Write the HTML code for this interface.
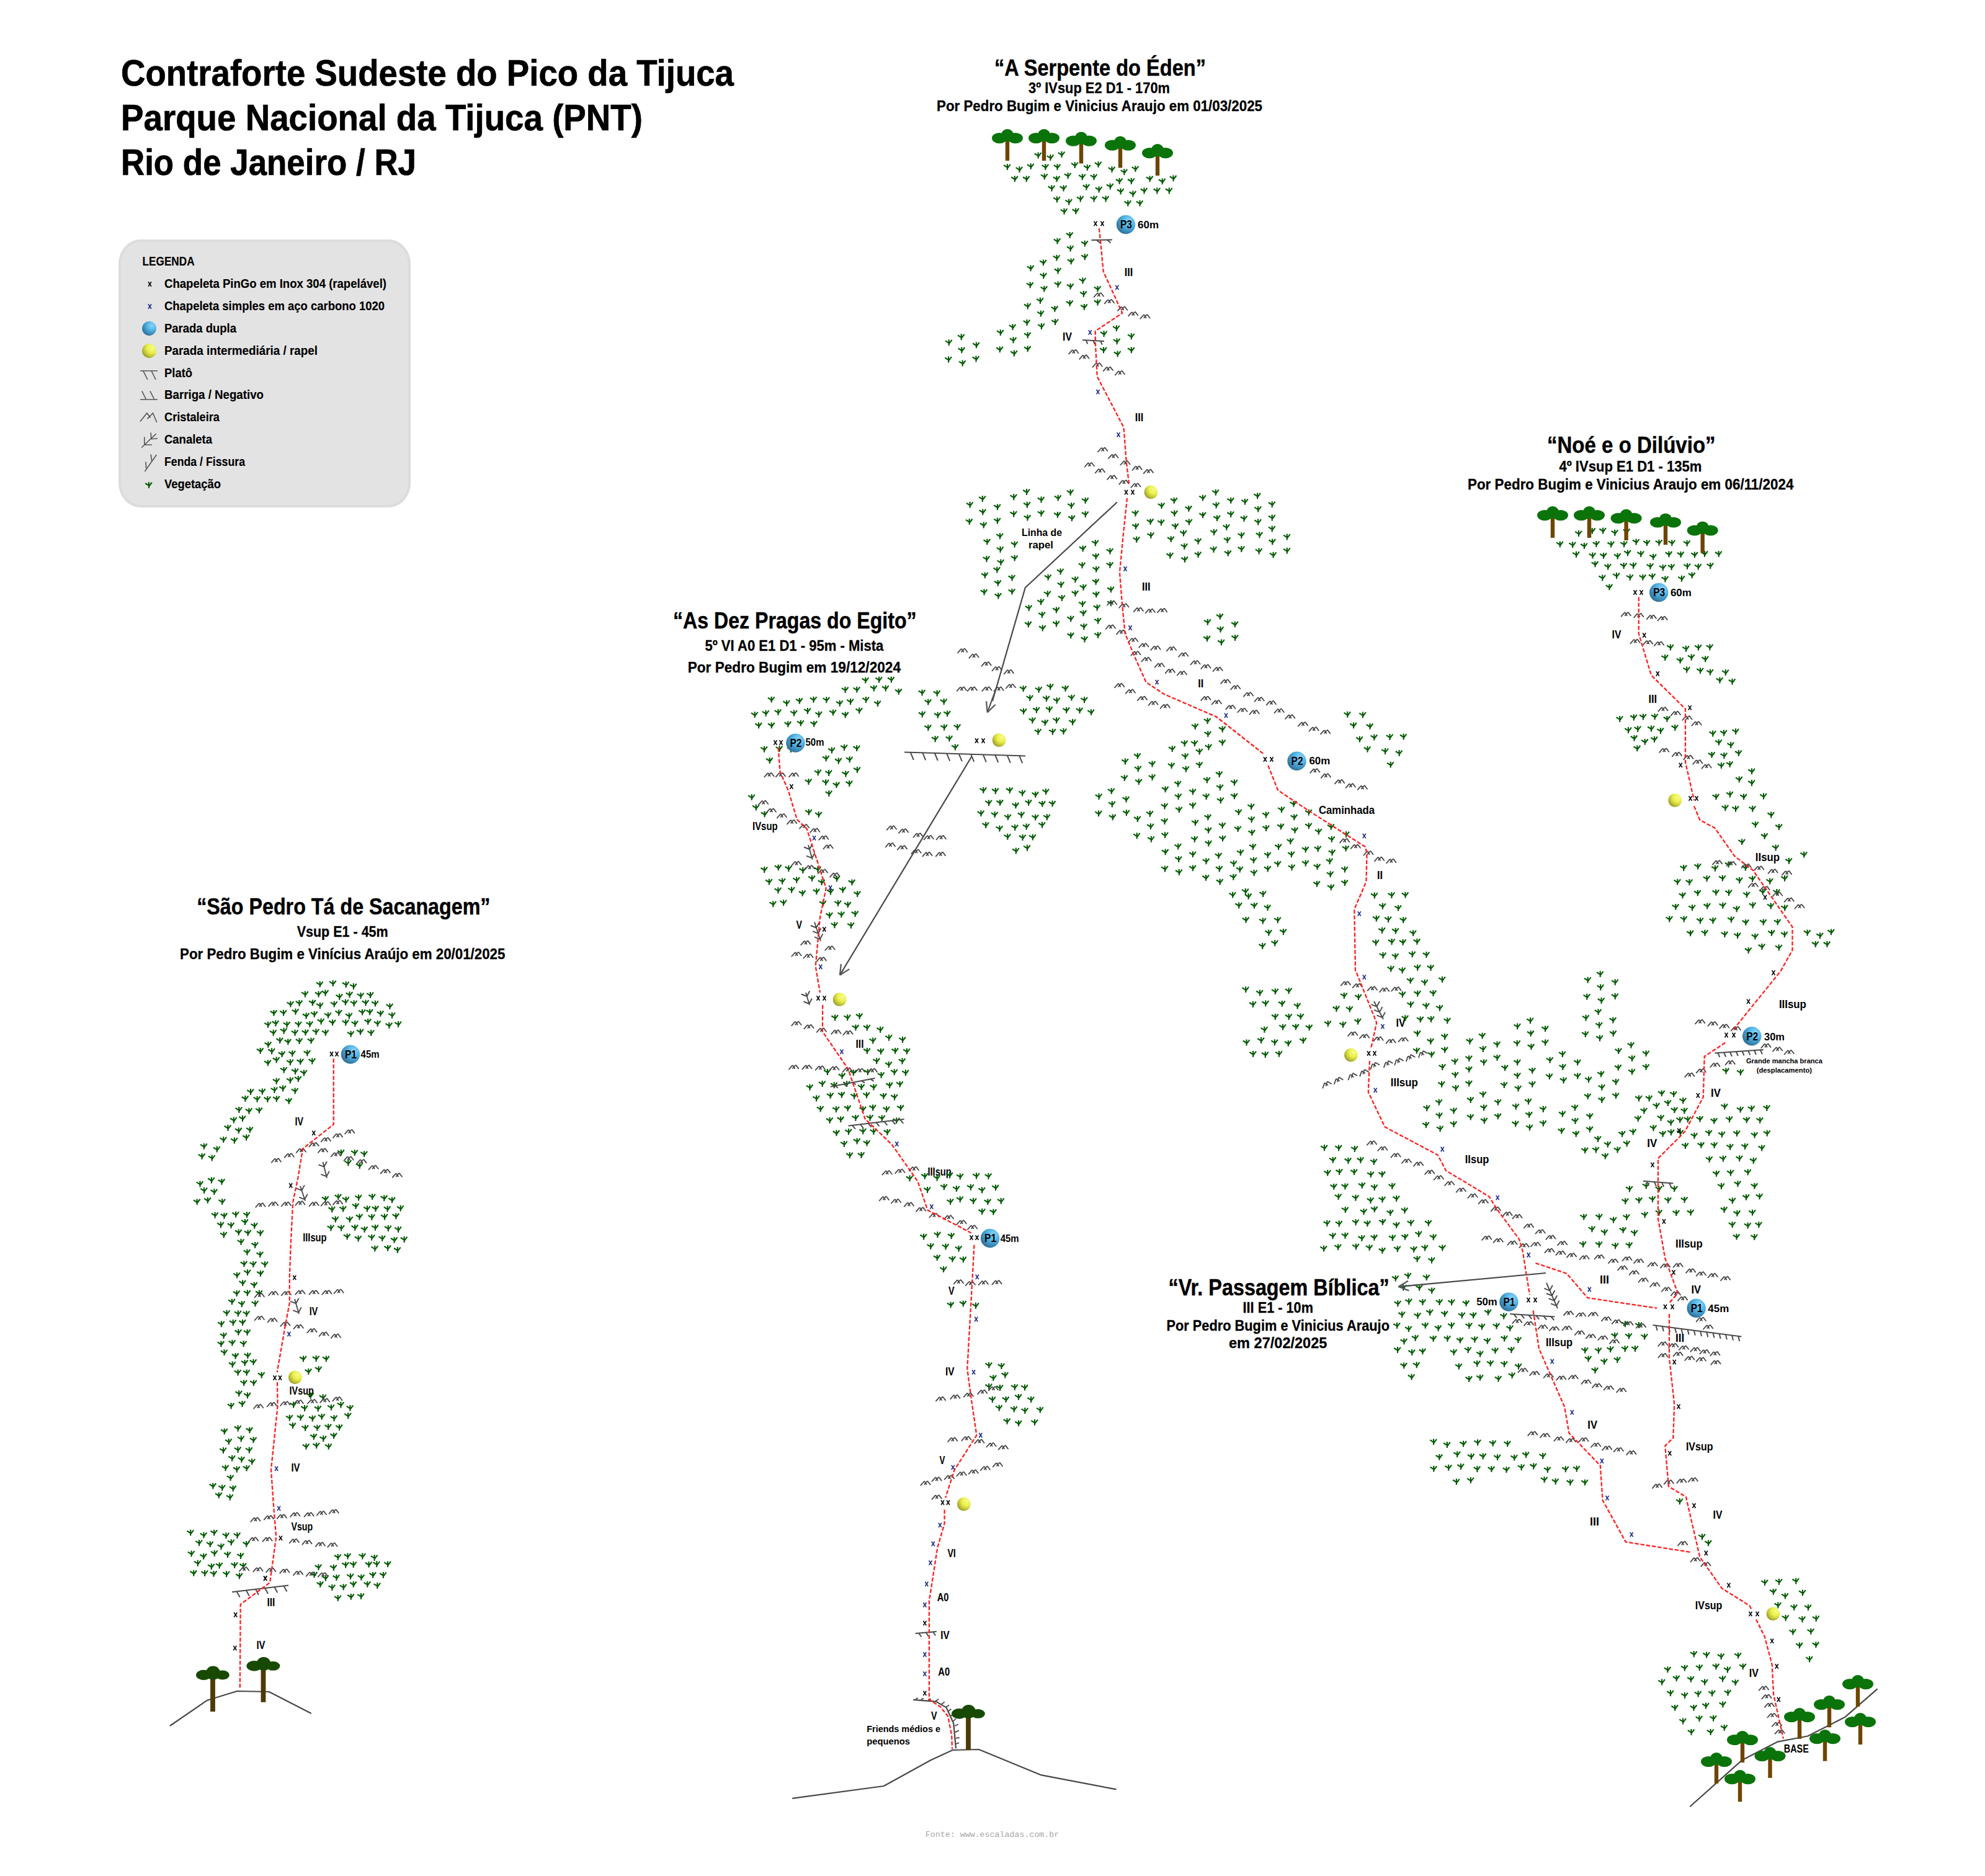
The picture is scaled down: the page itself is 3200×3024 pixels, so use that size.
<!DOCTYPE html>
<html><head><meta charset="utf-8"><title>Contraforte Sudeste do Pico da Tijuca</title>
<style>html,body{margin:0;padding:0;background:#fff;}svg{display:block;}</style></head>
<body><svg xmlns="http://www.w3.org/2000/svg" width="3200" height="3024" viewBox="0 0 3200 3024">
<defs>
<radialGradient id="gb" cx="0.68" cy="0.3" r="0.75">
<stop offset="0" stop-color="#8fd3f5"/><stop offset="0.45" stop-color="#4fb4e6"/><stop offset="1" stop-color="#2f6f98"/></radialGradient>
<radialGradient id="gy" cx="0.7" cy="0.3" r="0.8" fx="0.72" fy="0.28">
<stop offset="0" stop-color="#f8fc8c"/><stop offset="0.45" stop-color="#e9f04a"/><stop offset="0.8" stop-color="#b8bb35"/><stop offset="1" stop-color="#8f8f25"/></radialGradient>
<path id="v" d="M0,0V9.9M-5.7,2L-0.2,5.6M4.9,0.6L0.4,6.6" stroke="#005a00" stroke-width="2.1" fill="none"/>
<path id="c" d="M-7.8,3.3L-2.8,-2.4Q-2,-3.2 -1.2,-2.3L1.4,1.9M-1.7,1.8L0.6,-0.9Q2.2,-3.6 3.4,-3.2L7.5,2.1" stroke="#464646" stroke-width="1.8" fill="none" stroke-linecap="round" stroke-linejoin="round"/>
<g id="bx"><path d="M-2.5,-3.7L2.5,3.7M2.5,-3.7L-2.5,3.7" stroke="#000" stroke-width="1.55"/></g>
<g id="bb"><path d="M-2.5,-3.7L2.5,3.7M2.5,-3.7L-2.5,3.7" stroke="#1a2a8a" stroke-width="1.6"/></g>
<g id="tb"><rect x="-3.2" y="16" width="6.6" height="60" fill="#6e4500"/><ellipse cx="-13.5" cy="14" rx="11.8" ry="7.8" fill="#0a740a"/><ellipse cx="14" cy="14" rx="11" ry="7.4" fill="#0a740a"/><ellipse cx="0.5" cy="10.5" rx="10.5" ry="10.5" fill="#0a740a"/></g>
<g id="td"><rect x="-3.9" y="16" width="7.8" height="80" fill="#4d3a05"/><ellipse cx="-14.6" cy="14.4" rx="12.4" ry="8.3" fill="#174a00"/><ellipse cx="15.7" cy="14.4" rx="11.2" ry="7.4" fill="#174a00"/><ellipse cx="0.5" cy="11" rx="11.5" ry="11" fill="#174a00"/></g>
<clipPath id="ck"><rect x="0" y="0" width="3200" height="3024"/></clipPath>
</defs>
<rect x="191" y="386" width="471" height="432" rx="36" ry="40" fill="#e3e3e3"/><rect x="193" y="388" width="467" height="428" rx="34" ry="38" fill="none" stroke="#dcdcdc" stroke-width="4"/><text x="195" y="138" font-family="Liberation Sans" font-size="59.6" font-weight="bold" fill="#000" text-anchor="start" textLength="988" lengthAdjust="spacingAndGlyphs" stroke="#000" stroke-width="0.7">Contraforte Sudeste do Pico da Tijuca</text><text x="195" y="210" font-family="Liberation Sans" font-size="59.6" font-weight="bold" fill="#000" text-anchor="start" textLength="841" lengthAdjust="spacingAndGlyphs" stroke="#000" stroke-width="0.7">Parque Nacional da Tijuca (PNT)</text><text x="195" y="281.5" font-family="Liberation Sans" font-size="59.6" font-weight="bold" fill="#000" text-anchor="start" textLength="476" lengthAdjust="spacingAndGlyphs" stroke="#000" stroke-width="0.7">Rio de Janeiro / RJ</text><text x="229.6" y="428" font-family="Liberation Sans" font-size="20.2" font-weight="bold" fill="#000" text-anchor="start" textLength="84" lengthAdjust="spacingAndGlyphs" stroke="#000" stroke-width="0.15">LEGENDA</text><text x="265" y="464" font-family="Liberation Sans" font-size="21" font-weight="bold" fill="#000" text-anchor="start" textLength="358" lengthAdjust="spacingAndGlyphs" stroke="#000" stroke-width="0.15">Chapeleta PinGo em Inox 304 (rapelável)</text><text x="265" y="500" font-family="Liberation Sans" font-size="21" font-weight="bold" fill="#000" text-anchor="start" textLength="355" lengthAdjust="spacingAndGlyphs" stroke="#000" stroke-width="0.15">Chapeleta simples em aço carbono 1020</text><text x="265" y="536" font-family="Liberation Sans" font-size="21" font-weight="bold" fill="#000" text-anchor="start" textLength="116" lengthAdjust="spacingAndGlyphs" stroke="#000" stroke-width="0.15">Parada dupla</text><text x="265" y="571.5" font-family="Liberation Sans" font-size="21" font-weight="bold" fill="#000" text-anchor="start" textLength="247" lengthAdjust="spacingAndGlyphs" stroke="#000" stroke-width="0.15">Parada intermediária / rapel</text><text x="265" y="607.5" font-family="Liberation Sans" font-size="21" font-weight="bold" fill="#000" text-anchor="start" textLength="45" lengthAdjust="spacingAndGlyphs" stroke="#000" stroke-width="0.15">Platô</text><text x="265" y="643" font-family="Liberation Sans" font-size="21" font-weight="bold" fill="#000" text-anchor="start" textLength="160" lengthAdjust="spacingAndGlyphs" stroke="#000" stroke-width="0.15">Barriga / Negativo</text><text x="265" y="679" font-family="Liberation Sans" font-size="21" font-weight="bold" fill="#000" text-anchor="start" textLength="89" lengthAdjust="spacingAndGlyphs" stroke="#000" stroke-width="0.15">Cristaleira</text><text x="265" y="715" font-family="Liberation Sans" font-size="21" font-weight="bold" fill="#000" text-anchor="start" textLength="77" lengthAdjust="spacingAndGlyphs" stroke="#000" stroke-width="0.15">Canaleta</text><text x="265" y="751" font-family="Liberation Sans" font-size="21" font-weight="bold" fill="#000" text-anchor="start" textLength="130" lengthAdjust="spacingAndGlyphs" stroke="#000" stroke-width="0.15">Fenda / Fissura</text><text x="265" y="787" font-family="Liberation Sans" font-size="21" font-weight="bold" fill="#000" text-anchor="start" textLength="91" lengthAdjust="spacingAndGlyphs" stroke="#000" stroke-width="0.15">Vegetação</text><text x="1603" y="121.6" font-family="Liberation Sans" font-size="36.3" font-weight="bold" fill="#000" text-anchor="start" textLength="341" lengthAdjust="spacingAndGlyphs" stroke="#000" stroke-width="0.45">“A Serpente do Éden”</text><text x="1658" y="149.8" font-family="Liberation Sans" font-size="24.1" font-weight="bold" fill="#000" text-anchor="start" textLength="228" lengthAdjust="spacingAndGlyphs" stroke="#000" stroke-width="0.3">3º IVsup E2 D1 - 170m</text><text x="1510" y="178.6" font-family="Liberation Sans" font-size="24.1" font-weight="bold" fill="#000" text-anchor="start" textLength="525" lengthAdjust="spacingAndGlyphs" stroke="#000" stroke-width="0.3">Por Pedro Bugim e Vinicius Araujo em 01/03/2025</text><text x="1085" y="1013" font-family="Liberation Sans" font-size="36.3" font-weight="bold" fill="#000" text-anchor="start" textLength="392.6" lengthAdjust="spacingAndGlyphs" stroke="#000" stroke-width="0.45">“As Dez Pragas do Egito”</text><text x="1136.4" y="1049" font-family="Liberation Sans" font-size="24.1" font-weight="bold" fill="#000" text-anchor="start" textLength="288" lengthAdjust="spacingAndGlyphs" stroke="#000" stroke-width="0.3">5º VI A0 E1 D1 - 95m - Mista</text><text x="1108.7" y="1084.3" font-family="Liberation Sans" font-size="24.1" font-weight="bold" fill="#000" text-anchor="start" textLength="343.3" lengthAdjust="spacingAndGlyphs" stroke="#000" stroke-width="0.3">Por Pedro Bugim em 19/12/2024</text><text x="317.2" y="1474.2" font-family="Liberation Sans" font-size="36.3" font-weight="bold" fill="#000" text-anchor="start" textLength="473.3" lengthAdjust="spacingAndGlyphs" stroke="#000" stroke-width="0.45">“São Pedro Tá de Sacanagem”</text><text x="478.7" y="1509.7" font-family="Liberation Sans" font-size="24.1" font-weight="bold" fill="#000" text-anchor="start" textLength="147" lengthAdjust="spacingAndGlyphs" stroke="#000" stroke-width="0.3">Vsup E1 - 45m</text><text x="290" y="1545.5" font-family="Liberation Sans" font-size="24.1" font-weight="bold" fill="#000" text-anchor="start" textLength="524.4" lengthAdjust="spacingAndGlyphs" stroke="#000" stroke-width="0.3">Por Pedro Bugim e Vinícius Araújo em 20/01/2025</text><text x="2494" y="730.4" font-family="Liberation Sans" font-size="36.3" font-weight="bold" fill="#000" text-anchor="start" textLength="271.6" lengthAdjust="spacingAndGlyphs" stroke="#000" stroke-width="0.45">“Noé e o Dilúvio”</text><text x="2513.4" y="759.5" font-family="Liberation Sans" font-size="24.1" font-weight="bold" fill="#000" text-anchor="start" textLength="230" lengthAdjust="spacingAndGlyphs" stroke="#000" stroke-width="0.3">4º IVsup E1 D1 - 135m</text><text x="2366" y="789" font-family="Liberation Sans" font-size="24.1" font-weight="bold" fill="#000" text-anchor="start" textLength="525.4" lengthAdjust="spacingAndGlyphs" stroke="#000" stroke-width="0.3">Por Pedro Bugim e Vinicius Araujo em 06/11/2024</text><text x="1883.6" y="2087.5" font-family="Liberation Sans" font-size="36.3" font-weight="bold" fill="#000" text-anchor="start" textLength="356" lengthAdjust="spacingAndGlyphs" stroke="#000" stroke-width="0.45">“Vr. Passagem Bíblica”</text><text x="2003.5" y="2116.3" font-family="Liberation Sans" font-size="24.1" font-weight="bold" fill="#000" text-anchor="start" textLength="113.5" lengthAdjust="spacingAndGlyphs" stroke="#000" stroke-width="0.3">III E1 - 10m</text><text x="1880.4" y="2145" font-family="Liberation Sans" font-size="24.1" font-weight="bold" fill="#000" text-anchor="start" textLength="359.6" lengthAdjust="spacingAndGlyphs" stroke="#000" stroke-width="0.3">Por Pedro Bugim e Vinicius Araujo</text><text x="1981" y="2173.2" font-family="Liberation Sans" font-size="24.1" font-weight="bold" fill="#000" text-anchor="start" textLength="158.4" lengthAdjust="spacingAndGlyphs" stroke="#000" stroke-width="0.3">em 27/02/2025</text><text x="1834" y="368" font-family="Liberation Sans" font-size="17" font-weight="bold" fill="#000" text-anchor="start" textLength="34" lengthAdjust="spacingAndGlyphs">60m</text><text x="1812.8" y="445" font-family="Liberation Sans" font-size="18.8" font-weight="bold" fill="#000" text-anchor="start" textLength="13.6" lengthAdjust="spacingAndGlyphs">III</text><text x="1713" y="549.4" font-family="Liberation Sans" font-size="18.8" font-weight="bold" fill="#000" text-anchor="start" textLength="15" lengthAdjust="spacingAndGlyphs">IV</text><text x="1829.8" y="678.6" font-family="Liberation Sans" font-size="18.8" font-weight="bold" fill="#000" text-anchor="start" textLength="13.6" lengthAdjust="spacingAndGlyphs">III</text><text x="1647" y="863.7" font-family="Liberation Sans" font-size="16.7" font-weight="bold" fill="#000" text-anchor="start" textLength="65" lengthAdjust="spacingAndGlyphs">Linha de</text><text x="1658" y="884" font-family="Liberation Sans" font-size="16.7" font-weight="bold" fill="#000" text-anchor="start" textLength="40" lengthAdjust="spacingAndGlyphs">rapel</text><text x="1841" y="952" font-family="Liberation Sans" font-size="18.8" font-weight="bold" fill="#000" text-anchor="start" textLength="13.6" lengthAdjust="spacingAndGlyphs">III</text><text x="1931.3" y="1107.6" font-family="Liberation Sans" font-size="18.8" font-weight="bold" fill="#000" text-anchor="start" textLength="9" lengthAdjust="spacingAndGlyphs">II</text><text x="2110.4" y="1232.3" font-family="Liberation Sans" font-size="17" font-weight="bold" fill="#000" text-anchor="start" textLength="34" lengthAdjust="spacingAndGlyphs">60m</text><text x="2126" y="1311.9" font-family="Liberation Sans" font-size="18.7" font-weight="bold" fill="#000" text-anchor="start" textLength="90" lengthAdjust="spacingAndGlyphs">Caminhada</text><text x="2220" y="1417.1" font-family="Liberation Sans" font-size="18.8" font-weight="bold" fill="#000" text-anchor="start" textLength="9" lengthAdjust="spacingAndGlyphs">II</text><text x="2250.6" y="1654.7" font-family="Liberation Sans" font-size="18.8" font-weight="bold" fill="#000" text-anchor="start" textLength="15.2" lengthAdjust="spacingAndGlyphs">IV</text><text x="2241.8" y="1751.2" font-family="Liberation Sans" font-size="18.8" font-weight="bold" fill="#000" text-anchor="start" textLength="44" lengthAdjust="spacingAndGlyphs">IIIsup</text><text x="2361.7" y="1875.1" font-family="Liberation Sans" font-size="18.8" font-weight="bold" fill="#000" text-anchor="start" textLength="38.7" lengthAdjust="spacingAndGlyphs">IIsup</text><text x="2380.2" y="2104.2" font-family="Liberation Sans" font-size="17" font-weight="bold" fill="#000" text-anchor="start" textLength="33.6" lengthAdjust="spacingAndGlyphs">50m</text><text x="2492" y="2170.3" font-family="Liberation Sans" font-size="18.8" font-weight="bold" fill="#000" text-anchor="start" textLength="43" lengthAdjust="spacingAndGlyphs">IIIsup</text><text x="2559.3" y="2302.7" font-family="Liberation Sans" font-size="18.8" font-weight="bold" fill="#000" text-anchor="start" textLength="15.7" lengthAdjust="spacingAndGlyphs">IV</text><text x="2563" y="2458.7" font-family="Liberation Sans" font-size="18.8" font-weight="bold" fill="#000" text-anchor="start" textLength="15" lengthAdjust="spacingAndGlyphs">III</text><text x="2579" y="2069" font-family="Liberation Sans" font-size="18.8" font-weight="bold" fill="#000" text-anchor="start" textLength="15" lengthAdjust="spacingAndGlyphs">III</text><text x="1298.5" y="1202.4" font-family="Liberation Sans" font-size="17" font-weight="bold" fill="#000" text-anchor="start" textLength="30" lengthAdjust="spacingAndGlyphs">50m</text><text x="1213" y="1338" font-family="Liberation Sans" font-size="18.8" font-weight="bold" fill="#000" text-anchor="start" textLength="40.7" lengthAdjust="spacingAndGlyphs">IVsup</text><text x="1283.5" y="1497" font-family="Liberation Sans" font-size="18.8" font-weight="bold" fill="#000" text-anchor="start" textLength="9.5" lengthAdjust="spacingAndGlyphs">V</text><text x="1379.6" y="1689" font-family="Liberation Sans" font-size="18.8" font-weight="bold" fill="#000" text-anchor="start" textLength="12.8" lengthAdjust="spacingAndGlyphs">III</text><text x="1495.4" y="1894.6" font-family="Liberation Sans" font-size="18.8" font-weight="bold" fill="#000" text-anchor="start" textLength="38.4" lengthAdjust="spacingAndGlyphs">IIIsup</text><text x="1612.7" y="2001.8" font-family="Liberation Sans" font-size="17" font-weight="bold" fill="#000" text-anchor="start" textLength="30" lengthAdjust="spacingAndGlyphs">45m</text><text x="1529" y="2087.2" font-family="Liberation Sans" font-size="18.8" font-weight="bold" fill="#000" text-anchor="start" textLength="9.6" lengthAdjust="spacingAndGlyphs">V</text><text x="1524" y="2217" font-family="Liberation Sans" font-size="18.8" font-weight="bold" fill="#000" text-anchor="start" textLength="14.6" lengthAdjust="spacingAndGlyphs">IV</text><text x="1514.6" y="2360" font-family="Liberation Sans" font-size="18.8" font-weight="bold" fill="#000" text-anchor="start" textLength="9" lengthAdjust="spacingAndGlyphs">V</text><text x="1527.4" y="2510.2" font-family="Liberation Sans" font-size="18.8" font-weight="bold" fill="#000" text-anchor="start" textLength="13.4" lengthAdjust="spacingAndGlyphs">VI</text><text x="1510.7" y="2581.2" font-family="Liberation Sans" font-size="18.8" font-weight="bold" fill="#000" text-anchor="start" textLength="18.9" lengthAdjust="spacingAndGlyphs">A0</text><text x="1516.2" y="2642.3" font-family="Liberation Sans" font-size="18.8" font-weight="bold" fill="#000" text-anchor="start" textLength="14.4" lengthAdjust="spacingAndGlyphs">IV</text><text x="1512.3" y="2701.1" font-family="Liberation Sans" font-size="18.8" font-weight="bold" fill="#000" text-anchor="start" textLength="18.9" lengthAdjust="spacingAndGlyphs">A0</text><text x="1501" y="2771.6" font-family="Liberation Sans" font-size="18.8" font-weight="bold" fill="#000" text-anchor="start" textLength="9.6" lengthAdjust="spacingAndGlyphs">V</text><text x="1397.2" y="2791.6" font-family="Liberation Sans" font-size="15.5" font-weight="bold" fill="#000" text-anchor="start" textLength="118.8" lengthAdjust="spacingAndGlyphs">Friends médios e</text><text x="1397.2" y="2811.9" font-family="Liberation Sans" font-size="15.5" font-weight="bold" fill="#000" text-anchor="start" textLength="69.8" lengthAdjust="spacingAndGlyphs">pequenos</text><text x="581.6" y="1704.5" font-family="Liberation Sans" font-size="17" font-weight="bold" fill="#000" text-anchor="start" textLength="30" lengthAdjust="spacingAndGlyphs">45m</text><text x="475.5" y="1814" font-family="Liberation Sans" font-size="18.8" font-weight="bold" fill="#000" text-anchor="start" textLength="13.5" lengthAdjust="spacingAndGlyphs">IV</text><text x="488.2" y="2001.2" font-family="Liberation Sans" font-size="18.8" font-weight="bold" fill="#000" text-anchor="start" textLength="38.4" lengthAdjust="spacingAndGlyphs">IIIsup</text><text x="498.8" y="2120" font-family="Liberation Sans" font-size="18.8" font-weight="bold" fill="#000" text-anchor="start" textLength="13.4" lengthAdjust="spacingAndGlyphs">IV</text><text x="466.5" y="2248.4" font-family="Liberation Sans" font-size="18.8" font-weight="bold" fill="#000" text-anchor="start" textLength="39.3" lengthAdjust="spacingAndGlyphs">IVsup</text><text x="469.4" y="2371.5" font-family="Liberation Sans" font-size="18.8" font-weight="bold" fill="#000" text-anchor="start" textLength="14.1" lengthAdjust="spacingAndGlyphs">IV</text><text x="469.4" y="2467.4" font-family="Liberation Sans" font-size="18.8" font-weight="bold" fill="#000" text-anchor="start" textLength="34.8" lengthAdjust="spacingAndGlyphs">Vsup</text><text x="430.5" y="2589.2" font-family="Liberation Sans" font-size="18.8" font-weight="bold" fill="#000" text-anchor="start" textLength="12.9" lengthAdjust="spacingAndGlyphs">III</text><text x="413.4" y="2657.5" font-family="Liberation Sans" font-size="18.8" font-weight="bold" fill="#000" text-anchor="start" textLength="14.1" lengthAdjust="spacingAndGlyphs">IV</text><text x="2692.9" y="960.6" font-family="Liberation Sans" font-size="17" font-weight="bold" fill="#000" text-anchor="start" textLength="34" lengthAdjust="spacingAndGlyphs">60m</text><text x="2598.5" y="1028.8" font-family="Liberation Sans" font-size="18.8" font-weight="bold" fill="#000" text-anchor="start" textLength="15" lengthAdjust="spacingAndGlyphs">IV</text><text x="2657.4" y="1133.3" font-family="Liberation Sans" font-size="18.8" font-weight="bold" fill="#000" text-anchor="start" textLength="13.8" lengthAdjust="spacingAndGlyphs">III</text><text x="2829.8" y="1387.8" font-family="Liberation Sans" font-size="18.8" font-weight="bold" fill="#000" text-anchor="start" textLength="39.2" lengthAdjust="spacingAndGlyphs">IIsup</text><text x="2867.9" y="1624.7" font-family="Liberation Sans" font-size="18.8" font-weight="bold" fill="#000" text-anchor="start" textLength="44" lengthAdjust="spacingAndGlyphs">IIIsup</text><text x="2844" y="1677" font-family="Liberation Sans" font-size="17" font-weight="bold" fill="#000" text-anchor="start" textLength="33" lengthAdjust="spacingAndGlyphs">30m</text><text x="2814.9" y="1714.3" font-family="Liberation Sans" font-size="10.5" font-weight="bold" fill="#000" text-anchor="start" textLength="123" lengthAdjust="spacingAndGlyphs">Grande mancha branca</text><text x="2831.7" y="1728.5" font-family="Liberation Sans" font-size="10.5" font-weight="bold" fill="#000" text-anchor="start" textLength="89.3" lengthAdjust="spacingAndGlyphs">(desplacamento)</text><text x="2758" y="1768.4" font-family="Liberation Sans" font-size="18.8" font-weight="bold" fill="#000" text-anchor="start" textLength="15.8" lengthAdjust="spacingAndGlyphs">IV</text><text x="2655.2" y="1848.6" font-family="Liberation Sans" font-size="18.8" font-weight="bold" fill="#000" text-anchor="start" textLength="16" lengthAdjust="spacingAndGlyphs">IV</text><text x="2701" y="2010.9" font-family="Liberation Sans" font-size="18.8" font-weight="bold" fill="#000" text-anchor="start" textLength="43.7" lengthAdjust="spacingAndGlyphs">IIIsup</text><text x="2753.3" y="2115" font-family="Liberation Sans" font-size="17" font-weight="bold" fill="#000" text-anchor="start" textLength="34" lengthAdjust="spacingAndGlyphs">45m</text><text x="2726.5" y="2084.5" font-family="Liberation Sans" font-size="18.8" font-weight="bold" fill="#000" text-anchor="start" textLength="15.6" lengthAdjust="spacingAndGlyphs">IV</text><text x="2701" y="2162.8" font-family="Liberation Sans" font-size="18.8" font-weight="bold" fill="#000" text-anchor="start" textLength="14.3" lengthAdjust="spacingAndGlyphs">III</text><text x="2717.9" y="2338.2" font-family="Liberation Sans" font-size="18.8" font-weight="bold" fill="#000" text-anchor="start" textLength="43.6" lengthAdjust="spacingAndGlyphs">IVsup</text><text x="2761.5" y="2448.2" font-family="Liberation Sans" font-size="18.8" font-weight="bold" fill="#000" text-anchor="start" textLength="14.9" lengthAdjust="spacingAndGlyphs">IV</text><text x="2732.8" y="2593.8" font-family="Liberation Sans" font-size="18.8" font-weight="bold" fill="#000" text-anchor="start" textLength="43.6" lengthAdjust="spacingAndGlyphs">IVsup</text><text x="2819.8" y="2702.7" font-family="Liberation Sans" font-size="18.8" font-weight="bold" fill="#000" text-anchor="start" textLength="15.1" lengthAdjust="spacingAndGlyphs">IV</text><text x="2875.8" y="2824.5" font-family="Liberation Sans" font-size="18.8" font-weight="bold" fill="#000" text-anchor="start" textLength="40" lengthAdjust="spacingAndGlyphs">BASE</text><text x="1491.8" y="2960.6" font-family="Liberation Mono" font-size="13.3" font-weight="normal" fill="#a6a6a6" text-anchor="start" textLength="215.5" lengthAdjust="spacingAndGlyphs">Fonte: www.escaladas.com.br</text><use href="#v" x="1395.3" y="1091.7"/><use href="#v" x="1417.1" y="1090.7"/><use href="#v" x="1436.8" y="1090.5"/><use href="#v" x="1362.6" y="1107.1"/><use href="#v" x="1381.3" y="1106.7"/><use href="#v" x="1408.7" y="1104.5"/><use href="#v" x="1427.7" y="1104.5"/><use href="#v" x="1448.7" y="1109.9"/><use href="#v" x="1243.6" y="1122.7"/><use href="#v" x="1268.2" y="1128.5"/><use href="#v" x="1288.8" y="1124.9"/><use href="#v" x="1311.5" y="1122.8"/><use href="#v" x="1332.3" y="1123.3"/><use href="#v" x="1353.7" y="1128.8"/><use href="#v" x="1371" y="1126"/><use href="#v" x="1396" y="1123.1"/><use href="#v" x="1414.8" y="1129.1"/><use href="#v" x="1216.7" y="1147.2"/><use href="#v" x="1234.6" y="1144.8"/><use href="#v" x="1254.4" y="1143.1"/><use href="#v" x="1280" y="1144.6"/><use href="#v" x="1301.9" y="1141.1"/><use href="#v" x="1320.1" y="1146.6"/><use href="#v" x="1342.9" y="1143.7"/><use href="#v" x="1362.8" y="1147.4"/><use href="#v" x="1385.2" y="1140.6"/><use href="#v" x="1223.1" y="1164.4"/><use href="#v" x="1243.7" y="1164.4"/><use href="#v" x="1270.3" y="1162.4"/><use href="#v" x="1290.8" y="1160.7"/><use href="#v" x="1312.2" y="1161.9"/><use href="#v" x="1340.9" y="1204.6"/><use href="#v" x="1361" y="1200"/><use href="#v" x="1381.2" y="1201.2"/><use href="#v" x="1331.6" y="1217.6"/><use href="#v" x="1351.8" y="1221.5"/><use href="#v" x="1369.6" y="1219.3"/><use href="#v" x="1318.8" y="1240.3"/><use href="#v" x="1336.1" y="1241.1"/><use href="#v" x="1363.3" y="1242.5"/><use href="#v" x="1381.9" y="1236"/><use href="#v" x="1303.5" y="1255.1"/><use href="#v" x="1331.2" y="1256.2"/><use href="#v" x="1348.4" y="1260.4"/><use href="#v" x="1369.2" y="1258"/><use href="#v" x="1336.3" y="1274.1"/><use href="#v" x="1232" y="1202.8"/><use href="#v" x="1256.5" y="1202.1"/><use href="#v" x="1274.8" y="1203"/><use href="#v" x="1240.7" y="1220.9"/><use href="#v" x="1232.2" y="1397"/><use href="#v" x="1254.7" y="1393.4"/><use href="#v" x="1271.3" y="1395"/><use href="#v" x="1294.3" y="1398"/><use href="#v" x="1318.4" y="1396.6"/><use href="#v" x="1239.9" y="1416.5"/><use href="#v" x="1261.1" y="1415.6"/><use href="#v" x="1284.2" y="1413.6"/><use href="#v" x="1308.9" y="1410.9"/><use href="#v" x="1324.6" y="1417.2"/><use href="#v" x="1348.9" y="1411.4"/><use href="#v" x="1373.4" y="1417.4"/><use href="#v" x="1254.4" y="1430.3"/><use href="#v" x="1276.1" y="1429.6"/><use href="#v" x="1293.6" y="1434.9"/><use href="#v" x="1316.4" y="1432.1"/><use href="#v" x="1338.9" y="1432.5"/><use href="#v" x="1358.6" y="1429.4"/><use href="#v" x="1382.2" y="1436"/><use href="#v" x="1246.3" y="1452.3"/><use href="#v" x="1263.1" y="1450.2"/><use href="#v" x="1326.7" y="1451.2"/><use href="#v" x="1351" y="1451.1"/><use href="#v" x="1366.7" y="1453.4"/><use href="#v" x="1337.2" y="1470.5"/><use href="#v" x="1356.3" y="1469.2"/><use href="#v" x="1378.6" y="1468"/><use href="#v" x="1345.4" y="1486.3"/><use href="#v" x="1371.9" y="1486.8"/><use href="#v" x="1486.5" y="1111.5"/><use href="#v" x="1510.6" y="1112.6"/><use href="#v" x="1496.3" y="1126.7"/><use href="#v" x="1521.6" y="1126"/><use href="#v" x="1486.7" y="1146.5"/><use href="#v" x="1511.7" y="1147.8"/><use href="#v" x="1527.1" y="1145.4"/><use href="#v" x="1496.3" y="1168"/><use href="#v" x="1522.1" y="1167.6"/><use href="#v" x="1543.4" y="1167.1"/><use href="#v" x="1507.6" y="1186.3"/><use href="#v" x="1530.4" y="1185.6"/><use href="#v" x="1539.8" y="1199.6"/><use href="#v" x="1649.6" y="1105.2"/><use href="#v" x="1674.6" y="1106.8"/><use href="#v" x="1693.1" y="1102.1"/><use href="#v" x="1717.5" y="1104.9"/><use href="#v" x="1660.3" y="1120.2"/><use href="#v" x="1686.9" y="1121.2"/><use href="#v" x="1703.6" y="1124.3"/><use href="#v" x="1727.4" y="1119.7"/><use href="#v" x="1748" y="1123.3"/><use href="#v" x="1650" y="1141.7"/><use href="#v" x="1670.9" y="1139.5"/><use href="#v" x="1691.8" y="1138.5"/><use href="#v" x="1719.2" y="1139.9"/><use href="#v" x="1740.5" y="1140.2"/><use href="#v" x="1759" y="1143.2"/><use href="#v" x="1664.3" y="1156.3"/><use href="#v" x="1684.7" y="1159.9"/><use href="#v" x="1703.1" y="1156.2"/><use href="#v" x="1729.1" y="1159.1"/><use href="#v" x="1673.5" y="1174.6"/><use href="#v" x="1696.9" y="1174.6"/><use href="#v" x="1714.4" y="1174.1"/><use href="#v" x="1585.2" y="1268.9"/><use href="#v" x="1604.8" y="1270"/><use href="#v" x="1627.7" y="1269"/><use href="#v" x="1648.1" y="1273.6"/><use href="#v" x="1669.2" y="1275.9"/><use href="#v" x="1686" y="1271.2"/><use href="#v" x="1594" y="1289.2"/><use href="#v" x="1612.1" y="1288.9"/><use href="#v" x="1637.4" y="1293.4"/><use href="#v" x="1658.2" y="1288.8"/><use href="#v" x="1680.2" y="1290.9"/><use href="#v" x="1696.6" y="1290.5"/><use href="#v" x="1581.4" y="1306.2"/><use href="#v" x="1603.6" y="1308.2"/><use href="#v" x="1624.8" y="1312.2"/><use href="#v" x="1646.5" y="1308.5"/><use href="#v" x="1669.2" y="1312.7"/><use href="#v" x="1687.8" y="1312.3"/><use href="#v" x="1589.2" y="1325.1"/><use href="#v" x="1611.4" y="1330.7"/><use href="#v" x="1636.2" y="1329.1"/><use href="#v" x="1654.6" y="1327.6"/><use href="#v" x="1680" y="1324.8"/><use href="#v" x="1624.3" y="1343.8"/><use href="#v" x="1648.6" y="1345"/><use href="#v" x="1664.8" y="1344.7"/><use href="#v" x="1637.8" y="1366.5"/><use href="#v" x="1655.9" y="1361.8"/><use href="#v" x="1346.1" y="1635.5"/><use href="#v" x="1366.2" y="1635.3"/><use href="#v" x="1385.6" y="1633"/><use href="#v" x="1379.4" y="1651.4"/><use href="#v" x="1397.7" y="1651.5"/><use href="#v" x="1419.1" y="1654.8"/><use href="#v" x="1407.2" y="1672.6"/><use href="#v" x="1433" y="1667.8"/><use href="#v" x="1455" y="1671.1"/><use href="#v" x="1397.8" y="1689"/><use href="#v" x="1419.9" y="1689.9"/><use href="#v" x="1443.1" y="1688.9"/><use href="#v" x="1461.9" y="1689.7"/><use href="#v" x="1413.2" y="1705.3"/><use href="#v" x="1432.7" y="1711.1"/><use href="#v" x="1454.5" y="1705.6"/><use href="#v" x="1333.9" y="1723"/><use href="#v" x="1357.5" y="1729.4"/><use href="#v" x="1375.7" y="1724"/><use href="#v" x="1398.9" y="1723.2"/><use href="#v" x="1420.6" y="1728.1"/><use href="#v" x="1441.7" y="1723.2"/><use href="#v" x="1459.9" y="1724.3"/><use href="#v" x="1305.5" y="1747.8"/><use href="#v" x="1325.6" y="1742.1"/><use href="#v" x="1344.7" y="1744.3"/><use href="#v" x="1365.1" y="1742.2"/><use href="#v" x="1388.6" y="1747.2"/><use href="#v" x="1408.4" y="1747.5"/><use href="#v" x="1434.1" y="1744.4"/><use href="#v" x="1450.7" y="1742.7"/><use href="#v" x="1316.1" y="1765.6"/><use href="#v" x="1338.6" y="1761.2"/><use href="#v" x="1356.8" y="1759.9"/><use href="#v" x="1377.1" y="1761.8"/><use href="#v" x="1397" y="1760.3"/><use href="#v" x="1424.3" y="1761.9"/><use href="#v" x="1442" y="1763.5"/><use href="#v" x="1322.6" y="1782.6"/><use href="#v" x="1347.9" y="1783.3"/><use href="#v" x="1366.6" y="1781.4"/><use href="#v" x="1391.2" y="1783.3"/><use href="#v" x="1407.1" y="1780.5"/><use href="#v" x="1429.1" y="1783.2"/><use href="#v" x="1451.9" y="1780.9"/><use href="#v" x="1337.6" y="1801"/><use href="#v" x="1355.3" y="1799.4"/><use href="#v" x="1379.3" y="1797"/><use href="#v" x="1402.5" y="1796.8"/><use href="#v" x="1421.7" y="1797.6"/><use href="#v" x="1445.2" y="1801.4"/><use href="#v" x="1348.4" y="1821.4"/><use href="#v" x="1368" y="1819.3"/><use href="#v" x="1391.2" y="1818.6"/><use href="#v" x="1408.3" y="1819.1"/><use href="#v" x="1430.4" y="1820"/><use href="#v" x="1360.8" y="1839.1"/><use href="#v" x="1381.6" y="1834.5"/><use href="#v" x="1397.5" y="1837.7"/><use href="#v" x="1369.8" y="1857.3"/><use href="#v" x="1388.5" y="1857.1"/><use href="#v" x="1466.5" y="1894.5"/><use href="#v" x="1490.8" y="1890.9"/><use href="#v" x="1510.6" y="1893.8"/><use href="#v" x="1531" y="1889.6"/><use href="#v" x="1547.8" y="1891.6"/><use href="#v" x="1574" y="1890.6"/><use href="#v" x="1593.4" y="1891.1"/><use href="#v" x="1495.1" y="1913"/><use href="#v" x="1521.9" y="1908.3"/><use href="#v" x="1541.9" y="1911.2"/><use href="#v" x="1564.8" y="1908.8"/><use href="#v" x="1583.1" y="1913.5"/><use href="#v" x="1605" y="1909.4"/><use href="#v" x="1532.1" y="1932.1"/><use href="#v" x="1547.7" y="1928.3"/><use href="#v" x="1569.1" y="1931"/><use href="#v" x="1592.4" y="1932.4"/><use href="#v" x="1613.7" y="1931.1"/><use href="#v" x="1583.2" y="1948"/><use href="#v" x="1601.4" y="1948.7"/><use href="#v" x="1489.1" y="1988.5"/><use href="#v" x="1511.4" y="1985.3"/><use href="#v" x="1533.6" y="1987.3"/><use href="#v" x="1500.3" y="2004.1"/><use href="#v" x="1524.5" y="2004.6"/><use href="#v" x="1545.5" y="2007.8"/><use href="#v" x="1510.7" y="2022.4"/><use href="#v" x="1535.4" y="2024.7"/><use href="#v" x="1552.8" y="2025.4"/><use href="#v" x="1521.1" y="2041.2"/><use href="#v" x="1532.6" y="2098.4"/><use href="#v" x="1552.7" y="2096.4"/><use href="#v" x="1573" y="2099.8"/><use href="#v" x="1594.2" y="2195.7"/><use href="#v" x="1614.4" y="2197.2"/><use href="#v" x="1601.3" y="2216.2"/><use href="#v" x="1620.3" y="2211.5"/><use href="#v" x="1594.2" y="2230"/><use href="#v" x="1612" y="2232.1"/><use href="#v" x="1635.8" y="2231.1"/><use href="#v" x="1652" y="2231.7"/><use href="#v" x="1599.8" y="2251"/><use href="#v" x="1621.6" y="2250.9"/><use href="#v" x="1641.9" y="2246.9"/><use href="#v" x="1662.1" y="2251.1"/><use href="#v" x="1610.7" y="2264.6"/><use href="#v" x="1634.7" y="2266.6"/><use href="#v" x="1652.3" y="2269.1"/><use href="#v" x="1676.8" y="2267.7"/><use href="#v" x="1623.5" y="2286"/><use href="#v" x="1642" y="2289.4"/><use href="#v" x="1668" y="2287.8"/><use href="#v" x="515.7" y="1581.7"/><use href="#v" x="536.7" y="1580.2"/><use href="#v" x="557.7" y="1582"/><use href="#v" x="569.9" y="1585.1"/><use href="#v" x="491.9" y="1597.5"/><use href="#v" x="513.5" y="1597.6"/><use href="#v" x="524.5" y="1595.5"/><use href="#v" x="547.2" y="1601.8"/><use href="#v" x="563.4" y="1598.3"/><use href="#v" x="581.5" y="1600.1"/><use href="#v" x="597" y="1599.1"/><use href="#v" x="468.3" y="1613.7"/><use href="#v" x="482.5" y="1612"/><use href="#v" x="503.8" y="1611.4"/><use href="#v" x="515.9" y="1616"/><use href="#v" x="538.7" y="1613.7"/><use href="#v" x="556.9" y="1610.7"/><use href="#v" x="570.6" y="1612.3"/><use href="#v" x="589.5" y="1611.5"/><use href="#v" x="604.9" y="1612.7"/><use href="#v" x="628.4" y="1617.2"/><use href="#v" x="441.4" y="1627.9"/><use href="#v" x="457" y="1627.7"/><use href="#v" x="476.4" y="1625.8"/><use href="#v" x="493.6" y="1632.5"/><use href="#v" x="506.7" y="1629.9"/><use href="#v" x="528.9" y="1631.7"/><use href="#v" x="546.2" y="1627.6"/><use href="#v" x="562.8" y="1632.5"/><use href="#v" x="584" y="1626.7"/><use href="#v" x="596.1" y="1626.4"/><use href="#v" x="613.4" y="1628.9"/><use href="#v" x="632" y="1631.8"/><use href="#v" x="432" y="1646.8"/><use href="#v" x="444.4" y="1644.5"/><use href="#v" x="462.5" y="1646.6"/><use href="#v" x="481.1" y="1646.2"/><use href="#v" x="499.4" y="1646.1"/><use href="#v" x="517.6" y="1641.5"/><use href="#v" x="536" y="1643.4"/><use href="#v" x="557.3" y="1643.3"/><use href="#v" x="572.3" y="1645.1"/><use href="#v" x="593.2" y="1641.9"/><use href="#v" x="608.6" y="1644.8"/><use href="#v" x="627.3" y="1648"/><use href="#v" x="642.1" y="1646.1"/><use href="#v" x="440.7" y="1659.8"/><use href="#v" x="457.6" y="1656.8"/><use href="#v" x="475.5" y="1659.8"/><use href="#v" x="492.4" y="1659.4"/><use href="#v" x="509.4" y="1658.3"/><use href="#v" x="524.7" y="1659.7"/><use href="#v" x="565.6" y="1661.8"/><use href="#v" x="580.9" y="1658.4"/><use href="#v" x="598.2" y="1660.1"/><use href="#v" x="432.3" y="1678.9"/><use href="#v" x="451.2" y="1672.2"/><use href="#v" x="464.3" y="1674.4"/><use href="#v" x="482.6" y="1673.2"/><use href="#v" x="501.5" y="1672.7"/><use href="#v" x="419.6" y="1688.9"/><use href="#v" x="438.1" y="1689.5"/><use href="#v" x="454.5" y="1694.4"/><use href="#v" x="471.2" y="1693.3"/><use href="#v" x="495.3" y="1692.6"/><use href="#v" x="431.8" y="1708.4"/><use href="#v" x="445.6" y="1703.5"/><use href="#v" x="467.8" y="1707.3"/><use href="#v" x="484.2" y="1706.4"/><use href="#v" x="503.3" y="1705.5"/><use href="#v" x="457.6" y="1719.8"/><use href="#v" x="476" y="1722"/><use href="#v" x="489.9" y="1724.5"/><use href="#v" x="445.6" y="1737.8"/><use href="#v" x="467.8" y="1736.6"/><use href="#v" x="480.8" y="1734.2"/><use href="#v" x="404" y="1755.1"/><use href="#v" x="422.8" y="1754.6"/><use href="#v" x="442.4" y="1752.1"/><use href="#v" x="456" y="1749.5"/><use href="#v" x="475.6" y="1753.6"/><use href="#v" x="395.4" y="1766"/><use href="#v" x="414.6" y="1766.8"/><use href="#v" x="431.3" y="1767"/><use href="#v" x="445.8" y="1766.4"/><use href="#v" x="465.6" y="1769.9"/><use href="#v" x="385.3" y="1784"/><use href="#v" x="401.4" y="1785.9"/><use href="#v" x="417.8" y="1784.9"/><use href="#v" x="376.8" y="1800.5"/><use href="#v" x="391" y="1798"/><use href="#v" x="367.4" y="1813"/><use href="#v" x="384.7" y="1817.4"/><use href="#v" x="402.8" y="1816.2"/><use href="#v" x="360.2" y="1832.2"/><use href="#v" x="377.9" y="1833.6"/><use href="#v" x="397.1" y="1828.5"/><use href="#v" x="328.8" y="1842.9"/><use href="#v" x="349.7" y="1847.6"/><use href="#v" x="325.5" y="1858.9"/><use href="#v" x="341.6" y="1861.6"/><use href="#v" x="322.5" y="1903.6"/><use href="#v" x="340.9" y="1897.5"/><use href="#v" x="357.4" y="1899.9"/><use href="#v" x="329.1" y="1914"/><use href="#v" x="345.3" y="1916.2"/><use href="#v" x="317.6" y="1932.4"/><use href="#v" x="334.8" y="1929.9"/><use href="#v" x="358.2" y="1932.2"/><use href="#v" x="346.6" y="1953.8"/><use href="#v" x="361.4" y="1954.9"/><use href="#v" x="380.1" y="1952.7"/><use href="#v" x="397.9" y="1953.3"/><use href="#v" x="355.9" y="1969.5"/><use href="#v" x="372.5" y="1970.2"/><use href="#v" x="394.9" y="1964.9"/><use href="#v" x="410.2" y="1970.8"/><use href="#v" x="360.7" y="1985.6"/><use href="#v" x="384.6" y="1981.4"/><use href="#v" x="399.6" y="1982.4"/><use href="#v" x="419.7" y="1982.8"/><use href="#v" x="388.5" y="1997.1"/><use href="#v" x="411.2" y="2002"/><use href="#v" x="398.4" y="2013.6"/><use href="#v" x="419.2" y="2017.3"/><use href="#v" x="393.4" y="2032.4"/><use href="#v" x="408.3" y="2033.1"/><use href="#v" x="427" y="2033.2"/><use href="#v" x="382" y="2050.7"/><use href="#v" x="399" y="2046.2"/><use href="#v" x="419.9" y="2047.9"/><use href="#v" x="391.2" y="2063.2"/><use href="#v" x="409.7" y="2066.4"/><use href="#v" x="381.6" y="2079.9"/><use href="#v" x="398.8" y="2079.3"/><use href="#v" x="417.9" y="2079.5"/><use href="#v" x="373.9" y="2093.4"/><use href="#v" x="389.8" y="2097.1"/><use href="#v" x="411.4" y="2096.3"/><use href="#v" x="365.5" y="2111.7"/><use href="#v" x="383.8" y="2112.3"/><use href="#v" x="397.4" y="2112.7"/><use href="#v" x="356.8" y="2129.3"/><use href="#v" x="375.7" y="2127.1"/><use href="#v" x="391.1" y="2126.9"/><use href="#v" x="360.5" y="2148.1"/><use href="#v" x="384.3" y="2142.5"/><use href="#v" x="398.6" y="2142.8"/><use href="#v" x="356.4" y="2161.4"/><use href="#v" x="374.4" y="2159.7"/><use href="#v" x="392.6" y="2161.1"/><use href="#v" x="361.5" y="2175.2"/><use href="#v" x="379.6" y="2180.9"/><use href="#v" x="399.3" y="2180.2"/><use href="#v" x="374.7" y="2194.5"/><use href="#v" x="394.6" y="2191.9"/><use href="#v" x="408.5" y="2190.7"/><use href="#v" x="383.5" y="2207.5"/><use href="#v" x="397.6" y="2207.6"/><use href="#v" x="421.6" y="2211.5"/><use href="#v" x="393.2" y="2224.2"/><use href="#v" x="408.9" y="2224.2"/><use href="#v" x="385.2" y="2241.2"/><use href="#v" x="398.9" y="2244.4"/><use href="#v" x="372.5" y="2261.3"/><use href="#v" x="390.5" y="2258"/><use href="#v" x="361.7" y="2302.4"/><use href="#v" x="383.6" y="2297.5"/><use href="#v" x="402.3" y="2300.4"/><use href="#v" x="368.7" y="2318.8"/><use href="#v" x="388.7" y="2314.3"/><use href="#v" x="408.5" y="2316.2"/><use href="#v" x="359.9" y="2333.1"/><use href="#v" x="383.5" y="2331.8"/><use href="#v" x="401.8" y="2332.6"/><use href="#v" x="374.1" y="2345.7"/><use href="#v" x="389.4" y="2347.7"/><use href="#v" x="406.2" y="2351.2"/><use href="#v" x="363.5" y="2361.3"/><use href="#v" x="381.7" y="2363.5"/><use href="#v" x="397.5" y="2361.7"/><use href="#v" x="371.6" y="2377.2"/><use href="#v" x="343.3" y="2390.4"/><use href="#v" x="358.1" y="2393.2"/><use href="#v" x="375.6" y="2394.4"/><use href="#v" x="352.7" y="2405.4"/><use href="#v" x="370.7" y="2408.6"/><use href="#v" x="524.6" y="1927.9"/><use href="#v" x="545.3" y="1924.3"/><use href="#v" x="557.7" y="1928.7"/><use href="#v" x="578.1" y="1925.6"/><use href="#v" x="600.1" y="1924.2"/><use href="#v" x="619.3" y="1926.4"/><use href="#v" x="632" y="1929.4"/><use href="#v" x="535.2" y="1944.5"/><use href="#v" x="553.1" y="1943.7"/><use href="#v" x="573.5" y="1939.2"/><use href="#v" x="591.9" y="1943.6"/><use href="#v" x="605.4" y="1943.4"/><use href="#v" x="624.6" y="1943.7"/><use href="#v" x="645.7" y="1942.8"/><use href="#v" x="540.8" y="1960.5"/><use href="#v" x="563.7" y="1960.7"/><use href="#v" x="579.5" y="1956.5"/><use href="#v" x="599.3" y="1957.1"/><use href="#v" x="619.9" y="1956.5"/><use href="#v" x="638.3" y="1955.4"/><use href="#v" x="533.4" y="1974.3"/><use href="#v" x="550.1" y="1974.5"/><use href="#v" x="572.2" y="1973.9"/><use href="#v" x="587.6" y="1976.9"/><use href="#v" x="604.9" y="1973.9"/><use href="#v" x="625.8" y="1975"/><use href="#v" x="642" y="1976.8"/><use href="#v" x="559.6" y="1988.4"/><use href="#v" x="577.6" y="1991.5"/><use href="#v" x="599.2" y="1989.7"/><use href="#v" x="616.2" y="1991.2"/><use href="#v" x="635.6" y="1993.9"/><use href="#v" x="651.6" y="1993"/><use href="#v" x="604.3" y="2007.7"/><use href="#v" x="625.1" y="2006.9"/><use href="#v" x="640.8" y="2010"/><use href="#v" x="549.9" y="1852.9"/><use href="#v" x="571.8" y="1853.2"/><use href="#v" x="587.1" y="1855.2"/><use href="#v" x="561.3" y="1869.6"/><use href="#v" x="579.7" y="1874"/><use href="#v" x="488.9" y="2185.4"/><use href="#v" x="509.6" y="2185"/><use href="#v" x="525.8" y="2185.4"/><use href="#v" x="497.3" y="2205.9"/><use href="#v" x="513.7" y="2202.2"/><use href="#v" x="500.7" y="2244.8"/><use href="#v" x="520.6" y="2247.5"/><use href="#v" x="473.1" y="2259.6"/><use href="#v" x="491.1" y="2265"/><use href="#v" x="512.7" y="2265.5"/><use href="#v" x="533.9" y="2263.7"/><use href="#v" x="549.4" y="2259.6"/><use href="#v" x="564.4" y="2264.7"/><use href="#v" x="466.8" y="2280.6"/><use href="#v" x="484.6" y="2280"/><use href="#v" x="503.7" y="2281.5"/><use href="#v" x="518.6" y="2278.7"/><use href="#v" x="538.5" y="2281.1"/><use href="#v" x="561.1" y="2277"/><use href="#v" x="471.9" y="2293.1"/><use href="#v" x="492.1" y="2296.8"/><use href="#v" x="511.4" y="2296.7"/><use href="#v" x="529.2" y="2295.1"/><use href="#v" x="547" y="2295.9"/><use href="#v" x="505.8" y="2310.9"/><use href="#v" x="521.2" y="2314.1"/><use href="#v" x="538.1" y="2309.4"/><use href="#v" x="493.5" y="2326.7"/><use href="#v" x="510.1" y="2325.2"/><use href="#v" x="529.7" y="2326.7"/><use href="#v" x="307.2" y="2465.7"/><use href="#v" x="328.4" y="2469.7"/><use href="#v" x="345.2" y="2465.7"/><use href="#v" x="364.4" y="2470.3"/><use href="#v" x="382.4" y="2470.1"/><use href="#v" x="321" y="2482.1"/><use href="#v" x="338.7" y="2484.2"/><use href="#v" x="356.4" y="2488.1"/><use href="#v" x="372.7" y="2481.3"/><use href="#v" x="397.2" y="2483.9"/><use href="#v" x="308.5" y="2499.6"/><use href="#v" x="328.2" y="2503.9"/><use href="#v" x="345.7" y="2498.8"/><use href="#v" x="366.9" y="2501.1"/><use href="#v" x="388" y="2503.1"/><use href="#v" x="318.8" y="2514.8"/><use href="#v" x="340.8" y="2520.3"/><use href="#v" x="353.7" y="2518.6"/><use href="#v" x="378.2" y="2518"/><use href="#v" x="392.2" y="2519"/><use href="#v" x="312.2" y="2530.9"/><use href="#v" x="330.1" y="2531.1"/><use href="#v" x="344.5" y="2531.9"/><use href="#v" x="365.1" y="2532.3"/><use href="#v" x="385.9" y="2535.4"/><use href="#v" x="544.7" y="2505"/><use href="#v" x="560.5" y="2503.5"/><use href="#v" x="584.3" y="2503.6"/><use href="#v" x="603.6" y="2506.1"/><use href="#v" x="513.4" y="2521.2"/><use href="#v" x="537.8" y="2522"/><use href="#v" x="557.2" y="2517.5"/><use href="#v" x="569.7" y="2517"/><use href="#v" x="594.5" y="2516.9"/><use href="#v" x="607.3" y="2516.3"/><use href="#v" x="625.1" y="2516.4"/><use href="#v" x="506.5" y="2533.4"/><use href="#v" x="524.8" y="2538.8"/><use href="#v" x="542.4" y="2538"/><use href="#v" x="565" y="2536.2"/><use href="#v" x="582.4" y="2537.7"/><use href="#v" x="601.1" y="2533.9"/><use href="#v" x="617.8" y="2534"/><use href="#v" x="516.3" y="2548.9"/><use href="#v" x="535.3" y="2554.1"/><use href="#v" x="553.6" y="2553.3"/><use href="#v" x="569.7" y="2548.9"/><use href="#v" x="592.3" y="2548.8"/><use href="#v" x="608.3" y="2551.1"/><use href="#v" x="544.7" y="2571.2"/><use href="#v" x="565.8" y="2568.9"/><use href="#v" x="582" y="2568.1"/><use href="#v" x="1987.2" y="1437.7"/><use href="#v" x="2012.6" y="1439.9"/><use href="#v" x="2036.1" y="1436.1"/><use href="#v" x="1997.2" y="1454.5"/><use href="#v" x="2021.9" y="1454.9"/><use href="#v" x="2043.5" y="1458.1"/><use href="#v" x="2008.5" y="1477.9"/><use href="#v" x="2035.8" y="1479.6"/><use href="#v" x="2059.8" y="1478.1"/><use href="#v" x="2045.3" y="1498.5"/><use href="#v" x="2068.9" y="1497"/><use href="#v" x="2035.2" y="1520.1"/><use href="#v" x="2055.2" y="1515.3"/><use href="#v" x="2172.3" y="1146.8"/><use href="#v" x="2197" y="1147.6"/><use href="#v" x="2182" y="1164.4"/><use href="#v" x="2208.4" y="1165.9"/><use href="#v" x="2191.9" y="1186.7"/><use href="#v" x="2215.3" y="1183.7"/><use href="#v" x="2240.5" y="1183.1"/><use href="#v" x="2262.6" y="1182.5"/><use href="#v" x="2204.5" y="1202.8"/><use href="#v" x="2233" y="1206.1"/><use href="#v" x="2255.6" y="1209"/><use href="#v" x="2241.7" y="1227.7"/><use href="#v" x="2215.8" y="1438.5"/><use href="#v" x="2243.4" y="1438"/><use href="#v" x="2265.5" y="1437.7"/><use href="#v" x="2228.9" y="1455.8"/><use href="#v" x="2254.1" y="1458.7"/><use href="#v" x="2218.8" y="1475.7"/><use href="#v" x="2238" y="1477"/><use href="#v" x="2262.2" y="1478.2"/><use href="#v" x="2228" y="1494.8"/><use href="#v" x="2249.8" y="1495.7"/><use href="#v" x="2278.1" y="1499.2"/><use href="#v" x="2218" y="1514.5"/><use href="#v" x="2243.6" y="1513"/><use href="#v" x="2261.6" y="1513.9"/><use href="#v" x="2284.4" y="1512.9"/><use href="#v" x="2229.5" y="1535.1"/><use href="#v" x="2249.5" y="1536.6"/><use href="#v" x="2276.7" y="1533.3"/><use href="#v" x="2299.4" y="1534.1"/><use href="#v" x="2242.3" y="1556.7"/><use href="#v" x="2260.6" y="1559.2"/><use href="#v" x="2285.2" y="1554.8"/><use href="#v" x="2306.5" y="1555"/><use href="#v" x="2273.7" y="1575.7"/><use href="#v" x="2296.7" y="1578.8"/><use href="#v" x="2325" y="1574.1"/><use href="#v" x="2260.9" y="1598.1"/><use href="#v" x="2285.3" y="1596.5"/><use href="#v" x="2310.5" y="1596"/><use href="#v" x="2274.1" y="1614.3"/><use href="#v" x="2299.2" y="1616.5"/><use href="#v" x="2321" y="1619.8"/><use href="#v" x="2265.3" y="1636.2"/><use href="#v" x="2289.7" y="1638.4"/><use href="#v" x="2307" y="1638"/><use href="#v" x="2333.3" y="1640.3"/><use href="#v" x="2008.2" y="1590.2"/><use href="#v" x="2031" y="1595.5"/><use href="#v" x="2055.8" y="1593.2"/><use href="#v" x="2077.6" y="1592.2"/><use href="#v" x="2019.9" y="1614"/><use href="#v" x="2040.3" y="1612.5"/><use href="#v" x="2066.7" y="1612.9"/><use href="#v" x="2091.6" y="1616.6"/><use href="#v" x="2055.8" y="1634"/><use href="#v" x="2077.7" y="1634"/><use href="#v" x="2096.7" y="1633.7"/><use href="#v" x="2038.4" y="1654.8"/><use href="#v" x="2068" y="1650.7"/><use href="#v" x="2088.9" y="1650.4"/><use href="#v" x="2110.6" y="1651.4"/><use href="#v" x="2009.5" y="1675.5"/><use href="#v" x="2033" y="1672"/><use href="#v" x="2055" y="1675.3"/><use href="#v" x="2076.8" y="1676.9"/><use href="#v" x="2100.8" y="1672.4"/><use href="#v" x="2020.1" y="1694"/><use href="#v" x="2039.8" y="1695"/><use href="#v" x="2061.9" y="1693.8"/><use href="#v" x="2166.8" y="1600.1"/><use href="#v" x="2189.9" y="1602.2"/><use href="#v" x="2154.4" y="1621"/><use href="#v" x="2175.8" y="1621.7"/><use href="#v" x="2140.8" y="1645.1"/><use href="#v" x="2165" y="1646.8"/><use href="#v" x="2189.1" y="1641.6"/><use href="#v" x="2134.9" y="1845.3"/><use href="#v" x="2158.1" y="1845.4"/><use href="#v" x="2183.9" y="1847.1"/><use href="#v" x="2148.7" y="1864.9"/><use href="#v" x="2173.4" y="1866"/><use href="#v" x="2193.4" y="1865"/><use href="#v" x="2214.8" y="1867.8"/><use href="#v" x="2140.2" y="1885.7"/><use href="#v" x="2159.2" y="1884"/><use href="#v" x="2183" y="1884.2"/><use href="#v" x="2209.8" y="1888.3"/><use href="#v" x="2228.1" y="1887.9"/><use href="#v" x="2150.2" y="1907.9"/><use href="#v" x="2168.4" y="1907.5"/><use href="#v" x="2195.7" y="1905.9"/><use href="#v" x="2215.7" y="1909"/><use href="#v" x="2244.3" y="1907.1"/><use href="#v" x="2157.6" y="1924.1"/><use href="#v" x="2185.4" y="1925.8"/><use href="#v" x="2209.5" y="1930"/><use href="#v" x="2228.4" y="1928.6"/><use href="#v" x="2251.2" y="1927"/><use href="#v" x="2168.8" y="1945.2"/><use href="#v" x="2198.5" y="1948.3"/><use href="#v" x="2215.7" y="1944.4"/><use href="#v" x="2241.3" y="1949.8"/><use href="#v" x="2264.5" y="1946.2"/><use href="#v" x="2139.3" y="1967.1"/><use href="#v" x="2158.7" y="1967.6"/><use href="#v" x="2185.6" y="1965.3"/><use href="#v" x="2204.3" y="1967.4"/><use href="#v" x="2228.9" y="1964.9"/><use href="#v" x="2251.2" y="1969.9"/><use href="#v" x="2274.4" y="1966.3"/><use href="#v" x="2302.8" y="1966.5"/><use href="#v" x="2148.5" y="1987.3"/><use href="#v" x="2168.5" y="1986.8"/><use href="#v" x="2195.3" y="1991"/><use href="#v" x="2215.4" y="1989.9"/><use href="#v" x="2244.8" y="1990.3"/><use href="#v" x="2265" y="1988.9"/><use href="#v" x="2287.1" y="1984.3"/><use href="#v" x="2310.7" y="1989.3"/><use href="#v" x="2134.1" y="2007.7"/><use href="#v" x="2157.1" y="2005.3"/><use href="#v" x="2185.9" y="2004.6"/><use href="#v" x="2207.6" y="2006.2"/><use href="#v" x="2228.4" y="2010.9"/><use href="#v" x="2252.8" y="2008.3"/><use href="#v" x="2279.2" y="2008.9"/><use href="#v" x="2297.1" y="2006.6"/><use href="#v" x="2325.3" y="2006.5"/><use href="#v" x="2284.6" y="2024.6"/><use href="#v" x="2308" y="2026.6"/><use href="#v" x="2249.7" y="2055.7"/><use href="#v" x="2269.9" y="2051.6"/><use href="#v" x="2299.7" y="2054.2"/><use href="#v" x="2262.3" y="2070.6"/><use href="#v" x="2288.1" y="2070.8"/><use href="#v" x="2308.2" y="2075.6"/><use href="#v" x="2253.4" y="2096.3"/><use href="#v" x="2271.2" y="2093.1"/><use href="#v" x="2293.4" y="2094.1"/><use href="#v" x="2320.5" y="2094.1"/><use href="#v" x="2340.1" y="2094.3"/><use href="#v" x="2363.5" y="2095.9"/><use href="#v" x="2260.1" y="2114"/><use href="#v" x="2285.4" y="2115.8"/><use href="#v" x="2305.1" y="2110.5"/><use href="#v" x="2328.9" y="2112.9"/><use href="#v" x="2356.7" y="2115.3"/><use href="#v" x="2375.1" y="2115.4"/><use href="#v" x="2398.9" y="2110.4"/><use href="#v" x="2424.2" y="2116.6"/><use href="#v" x="2252.1" y="2131.8"/><use href="#v" x="2270.8" y="2137.2"/><use href="#v" x="2297.7" y="2131.7"/><use href="#v" x="2318.6" y="2135.9"/><use href="#v" x="2339.9" y="2131.8"/><use href="#v" x="2368.3" y="2132.1"/><use href="#v" x="2388.9" y="2133.5"/><use href="#v" x="2412.5" y="2132.6"/><use href="#v" x="2434.2" y="2136.1"/><use href="#v" x="2263.4" y="2157.3"/><use href="#v" x="2281.6" y="2151.8"/><use href="#v" x="2310.6" y="2152.9"/><use href="#v" x="2333.4" y="2152.8"/><use href="#v" x="2353.8" y="2155.4"/><use href="#v" x="2377.3" y="2154.3"/><use href="#v" x="2397.8" y="2156.7"/><use href="#v" x="2425.2" y="2152.5"/><use href="#v" x="2447.4" y="2155.1"/><use href="#v" x="2253" y="2171"/><use href="#v" x="2276.2" y="2175"/><use href="#v" x="2293.3" y="2173.4"/><use href="#v" x="2343.6" y="2174.8"/><use href="#v" x="2366.7" y="2171.1"/><use href="#v" x="2386.1" y="2177.6"/><use href="#v" x="2410.4" y="2172.2"/><use href="#v" x="2436.4" y="2171"/><use href="#v" x="2263.2" y="2196.4"/><use href="#v" x="2283.7" y="2195.3"/><use href="#v" x="2351.8" y="2197.6"/><use href="#v" x="2381.2" y="2193"/><use href="#v" x="2402.7" y="2192.7"/><use href="#v" x="2425" y="2193.8"/><use href="#v" x="2448" y="2197.5"/><use href="#v" x="2275.5" y="2214.7"/><use href="#v" x="2368.2" y="2217.9"/><use href="#v" x="2386" y="2215.7"/><use href="#v" x="2415.5" y="2217.6"/><use href="#v" x="2437.6" y="2212.2"/><use href="#v" x="2311.1" y="2319.2"/><use href="#v" x="2332.9" y="2324"/><use href="#v" x="2359" y="2322.4"/><use href="#v" x="2382.1" y="2320.3"/><use href="#v" x="2406.6" y="2321.6"/><use href="#v" x="2430.2" y="2322.2"/><use href="#v" x="2320.3" y="2343.9"/><use href="#v" x="2349.2" y="2339.3"/><use href="#v" x="2371.7" y="2342.9"/><use href="#v" x="2390.7" y="2342.5"/><use href="#v" x="2414" y="2344.2"/><use href="#v" x="2441.2" y="2344.7"/><use href="#v" x="2460" y="2340"/><use href="#v" x="2487.2" y="2342.1"/><use href="#v" x="2311.3" y="2362.7"/><use href="#v" x="2335.2" y="2360.8"/><use href="#v" x="2355.1" y="2359"/><use href="#v" x="2381.4" y="2363.1"/><use href="#v" x="2404.4" y="2363.2"/><use href="#v" x="2428.5" y="2364.2"/><use href="#v" x="2452.6" y="2360.3"/><use href="#v" x="2472.2" y="2358.5"/><use href="#v" x="2494.7" y="2364.1"/><use href="#v" x="2523.8" y="2363.3"/><use href="#v" x="2541.7" y="2362.6"/><use href="#v" x="2347.9" y="2383.5"/><use href="#v" x="2370.9" y="2381.2"/><use href="#v" x="2489.6" y="2380.2"/><use href="#v" x="2507.6" y="2383"/><use href="#v" x="2531.3" y="2384.5"/><use href="#v" x="2554.9" y="2384.7"/><use href="#v" x="2545" y="855"/><use href="#v" x="2566.7" y="850.9"/><use href="#v" x="2584.1" y="850.5"/><use href="#v" x="2603.3" y="853.8"/><use href="#v" x="2622.5" y="851.7"/><use href="#v" x="2514.8" y="872.4"/><use href="#v" x="2535.2" y="873.3"/><use href="#v" x="2553.9" y="875"/><use href="#v" x="2573.4" y="872.1"/><use href="#v" x="2597.2" y="872.5"/><use href="#v" x="2618.1" y="872.3"/><use href="#v" x="2637.6" y="868.5"/><use href="#v" x="2654.9" y="870.2"/><use href="#v" x="2674.5" y="869.8"/><use href="#v" x="2695.3" y="870.2"/><use href="#v" x="2719.6" y="870.8"/><use href="#v" x="2541" y="888.8"/><use href="#v" x="2567.4" y="890.6"/><use href="#v" x="2585" y="890.9"/><use href="#v" x="2607.6" y="891.6"/><use href="#v" x="2624" y="886.4"/><use href="#v" x="2645.2" y="888"/><use href="#v" x="2665.1" y="892.7"/><use href="#v" x="2690.4" y="888.4"/><use href="#v" x="2709.5" y="888.9"/><use href="#v" x="2731.9" y="889.4"/><use href="#v" x="2748" y="887.9"/><use href="#v" x="2770.7" y="888"/><use href="#v" x="2571.4" y="904.4"/><use href="#v" x="2592.2" y="908.5"/><use href="#v" x="2617.6" y="907"/><use href="#v" x="2633.1" y="906.8"/><use href="#v" x="2660.3" y="907.8"/><use href="#v" x="2680.7" y="910.1"/><use href="#v" x="2694.6" y="909.1"/><use href="#v" x="2720" y="907.8"/><use href="#v" x="2737.7" y="908.6"/><use href="#v" x="2757.2" y="907.1"/><use href="#v" x="2583.2" y="926.5"/><use href="#v" x="2606" y="923.1"/><use href="#v" x="2627.7" y="925.8"/><use href="#v" x="2648.4" y="925.7"/><use href="#v" x="2663.6" y="924.3"/><use href="#v" x="2684.4" y="928.5"/><use href="#v" x="2711" y="927.8"/><use href="#v" x="2727.6" y="922.4"/><use href="#v" x="2594.4" y="941.4"/><use href="#v" x="2692.9" y="1038.5"/><use href="#v" x="2718" y="1040.8"/><use href="#v" x="2737.9" y="1038.7"/><use href="#v" x="2756.4" y="1038.3"/><use href="#v" x="2684.2" y="1055.1"/><use href="#v" x="2708.6" y="1059.7"/><use href="#v" x="2726.7" y="1054.6"/><use href="#v" x="2749.1" y="1057.4"/><use href="#v" x="2719.2" y="1074.6"/><use href="#v" x="2741" y="1076.2"/><use href="#v" x="2756.9" y="1078.6"/><use href="#v" x="2781.8" y="1079.1"/><use href="#v" x="2772.4" y="1091.6"/><use href="#v" x="2792.5" y="1093.8"/><use href="#v" x="2611.2" y="1154.1"/><use href="#v" x="2633.9" y="1151.5"/><use href="#v" x="2648.9" y="1150.5"/><use href="#v" x="2667.6" y="1150.3"/><use href="#v" x="2687.4" y="1153.9"/><use href="#v" x="2625" y="1172.1"/><use href="#v" x="2640.2" y="1170.1"/><use href="#v" x="2661.9" y="1169.5"/><use href="#v" x="2677" y="1173.1"/><use href="#v" x="2700.3" y="1168"/><use href="#v" x="2634.5" y="1184.9"/><use href="#v" x="2651.7" y="1190.9"/><use href="#v" x="2667" y="1186.9"/><use href="#v" x="2639.3" y="1201.4"/><use href="#v" x="2761.2" y="1177.6"/><use href="#v" x="2779" y="1176.5"/><use href="#v" x="2798.1" y="1174.2"/><use href="#v" x="2770.8" y="1191.7"/><use href="#v" x="2790.2" y="1196.1"/><use href="#v" x="2759.5" y="1211.9"/><use href="#v" x="2779.4" y="1213.1"/><use href="#v" x="2802.8" y="1209"/><use href="#v" x="2774.8" y="1229.2"/><use href="#v" x="2788.6" y="1227.1"/><use href="#v" x="2714.2" y="1394.1"/><use href="#v" x="2737.1" y="1391.7"/><use href="#v" x="2764.9" y="1394.8"/><use href="#v" x="2786.4" y="1388.6"/><use href="#v" x="2813.8" y="1393.9"/><use href="#v" x="2704.2" y="1416.7"/><use href="#v" x="2723.4" y="1417"/><use href="#v" x="2751.5" y="1411.3"/><use href="#v" x="2776.8" y="1410.7"/><use href="#v" x="2804.2" y="1414"/><use href="#v" x="2825.1" y="1411.8"/><use href="#v" x="2853.2" y="1415.6"/><use href="#v" x="2877" y="1410.9"/><use href="#v" x="2712.4" y="1438.4"/><use href="#v" x="2736.8" y="1434.4"/><use href="#v" x="2766.3" y="1433.7"/><use href="#v" x="2787" y="1434"/><use href="#v" x="2815.9" y="1437.2"/><use href="#v" x="2841.7" y="1432.7"/><use href="#v" x="2864.3" y="1433.1"/><use href="#v" x="2701.3" y="1456.9"/><use href="#v" x="2728" y="1458.3"/><use href="#v" x="2752.2" y="1455.5"/><use href="#v" x="2777.3" y="1454.8"/><use href="#v" x="2799.6" y="1460.3"/><use href="#v" x="2825.5" y="1454.3"/><use href="#v" x="2854.7" y="1455.6"/><use href="#v" x="2877.1" y="1458.4"/><use href="#v" x="2691.3" y="1476.6"/><use href="#v" x="2714.6" y="1476.6"/><use href="#v" x="2740.9" y="1479"/><use href="#v" x="2761.4" y="1479.1"/><use href="#v" x="2790.8" y="1477.3"/><use href="#v" x="2814.3" y="1481.9"/><use href="#v" x="2842.7" y="1481.5"/><use href="#v" x="2865.7" y="1481.3"/><use href="#v" x="2725" y="1499.4"/><use href="#v" x="2748.4" y="1498.8"/><use href="#v" x="2780.4" y="1501.1"/><use href="#v" x="2801.1" y="1503.1"/><use href="#v" x="2829.4" y="1504.7"/><use href="#v" x="2856" y="1498.9"/><use href="#v" x="2876.8" y="1501.2"/><use href="#v" x="2818.6" y="1527"/><use href="#v" x="2840.4" y="1521"/><use href="#v" x="2867.7" y="1522.6"/><use href="#v" x="2780.2" y="1778.7"/><use href="#v" x="2805.6" y="1783.7"/><use href="#v" x="2823.5" y="1782.1"/><use href="#v" x="2848.3" y="1781.1"/><use href="#v" x="2720.8" y="1799.5"/><use href="#v" x="2740.4" y="1798.9"/><use href="#v" x="2763.3" y="1801.9"/><use href="#v" x="2788" y="1799.3"/><use href="#v" x="2815.7" y="1800.4"/><use href="#v" x="2837.2" y="1800.8"/><use href="#v" x="2708.8" y="1821.1"/><use href="#v" x="2731.4" y="1825.8"/><use href="#v" x="2754.9" y="1821.2"/><use href="#v" x="2775.8" y="1823.8"/><use href="#v" x="2800" y="1822.1"/><use href="#v" x="2828.5" y="1824.7"/><use href="#v" x="2848.7" y="1821.8"/><use href="#v" x="2716.9" y="1842.1"/><use href="#v" x="2742.3" y="1840.9"/><use href="#v" x="2763.6" y="1841.1"/><use href="#v" x="2789.1" y="1843.8"/><use href="#v" x="2813" y="1843.1"/><use href="#v" x="2840.2" y="1845.6"/><use href="#v" x="2755.6" y="1863.8"/><use href="#v" x="2777.8" y="1862.8"/><use href="#v" x="2804.2" y="1862.3"/><use href="#v" x="2826.7" y="1866"/><use href="#v" x="2766.9" y="1886.9"/><use href="#v" x="2789.9" y="1885.5"/><use href="#v" x="2817.7" y="1884.5"/><use href="#v" x="2774.9" y="1907.1"/><use href="#v" x="2801.4" y="1903.3"/><use href="#v" x="2828.4" y="1906.9"/><use href="#v" x="2792.8" y="1930.5"/><use href="#v" x="2815" y="1924.9"/><use href="#v" x="2836.5" y="1923.7"/><use href="#v" x="2779.5" y="1945"/><use href="#v" x="2800.4" y="1950.9"/><use href="#v" x="2825" y="1949.7"/><use href="#v" x="2792.6" y="1969.2"/><use href="#v" x="2817.6" y="1970.6"/><use href="#v" x="2835.3" y="1969.3"/><use href="#v" x="2799.5" y="1988.7"/><use href="#v" x="2828.2" y="1989.2"/><use href="#v" x="2626.9" y="1911.5"/><use href="#v" x="2653.7" y="1906.6"/><use href="#v" x="2674.4" y="1911.4"/><use href="#v" x="2699.2" y="1911.4"/><use href="#v" x="2620.2" y="1931.3"/><use href="#v" x="2642.2" y="1929.9"/><use href="#v" x="2663.9" y="1928.1"/><use href="#v" x="2689.1" y="1929.7"/><use href="#v" x="2715.5" y="1929"/><use href="#v" x="2651.6" y="1953.3"/><use href="#v" x="2674.6" y="1949.7"/><use href="#v" x="2702.3" y="1950.2"/><use href="#v" x="2725.5" y="1949.5"/><use href="#v" x="2553.2" y="1956.7"/><use href="#v" x="2578.1" y="1956.5"/><use href="#v" x="2601" y="1961.6"/><use href="#v" x="2622.2" y="1957.1"/><use href="#v" x="2566.4" y="1976.3"/><use href="#v" x="2586.7" y="1981.5"/><use href="#v" x="2616.5" y="1977.9"/><use href="#v" x="2634.9" y="1982.5"/><use href="#v" x="2552" y="2000.8"/><use href="#v" x="2577.9" y="2001"/><use href="#v" x="2604.1" y="2003.3"/><use href="#v" x="2626.5" y="2002.3"/><use href="#v" x="2782.4" y="1721.4"/><use href="#v" x="2805.8" y="1723.6"/><use href="#v" x="2619.9" y="2129.3"/><use href="#v" x="2641.9" y="2131.1"/><use href="#v" x="2603.2" y="2148"/><use href="#v" x="2625.8" y="2148.7"/><use href="#v" x="2651.1" y="2149.7"/><use href="#v" x="2555.1" y="2171.7"/><use href="#v" x="2576.8" y="2172.1"/><use href="#v" x="2596.1" y="2170.2"/><use href="#v" x="2619.6" y="2169.3"/><use href="#v" x="2635.9" y="2169.1"/><use href="#v" x="2560.5" y="2185.4"/><use href="#v" x="2586.2" y="2189.8"/><use href="#v" x="2607.3" y="2187.1"/><use href="#v" x="2571.4" y="2204"/><use href="#v" x="2845" y="2546.1"/><use href="#v" x="2867.9" y="2544.8"/><use href="#v" x="2895.2" y="2543.5"/><use href="#v" x="2858.7" y="2560.9"/><use href="#v" x="2877.8" y="2567.7"/><use href="#v" x="2905.9" y="2562.5"/><use href="#v" x="2866.3" y="2582.5"/><use href="#v" x="2892.2" y="2586.1"/><use href="#v" x="2914.9" y="2586.2"/><use href="#v" x="2878.6" y="2603"/><use href="#v" x="2905.4" y="2605.3"/><use href="#v" x="2927.7" y="2604.1"/><use href="#v" x="2890.3" y="2625.7"/><use href="#v" x="2919.3" y="2624.8"/><use href="#v" x="2901" y="2647.4"/><use href="#v" x="2927.4" y="2646.4"/><use href="#v" x="2917.1" y="2669.6"/><use href="#v" x="2730.7" y="2661.3"/><use href="#v" x="2751.1" y="2662.7"/><use href="#v" x="2774.6" y="2665"/><use href="#v" x="2802" y="2663.7"/><use href="#v" x="2688.4" y="2686.4"/><use href="#v" x="2715.8" y="2683.7"/><use href="#v" x="2739.7" y="2683.1"/><use href="#v" x="2766.4" y="2681.4"/><use href="#v" x="2784.9" y="2686.5"/><use href="#v" x="2809.7" y="2681.4"/><use href="#v" x="2679.1" y="2706.6"/><use href="#v" x="2702.6" y="2700.4"/><use href="#v" x="2725.8" y="2701.9"/><use href="#v" x="2748.1" y="2706.6"/><use href="#v" x="2777" y="2701.3"/><use href="#v" x="2797.6" y="2707.2"/><use href="#v" x="2692.9" y="2724.3"/><use href="#v" x="2716" y="2728.1"/><use href="#v" x="2737.6" y="2725.6"/><use href="#v" x="2760" y="2724.6"/><use href="#v" x="2785.5" y="2723.6"/><use href="#v" x="2700.1" y="2747.9"/><use href="#v" x="2730.4" y="2747.9"/><use href="#v" x="2750" y="2744.5"/><use href="#v" x="2777.3" y="2742.6"/><use href="#v" x="2713.1" y="2769.6"/><use href="#v" x="2739.4" y="2765.3"/><use href="#v" x="2762.1" y="2764.8"/><use href="#v" x="2726.5" y="2787.1"/><use href="#v" x="1563.6" y="808.8"/><use href="#v" x="1583.8" y="799.1"/><use href="#v" x="1607.9" y="812.4"/><use href="#v" x="1584.3" y="820.4"/><use href="#v" x="1562.7" y="835.9"/><use href="#v" x="1585.7" y="841.5"/><use href="#v" x="1607.9" y="834.6"/><use href="#v" x="1634.2" y="796.3"/><use href="#v" x="1655" y="788"/><use href="#v" x="1678.5" y="800.5"/><use href="#v" x="1705.7" y="797.7"/><use href="#v" x="1725.6" y="788.8"/><use href="#v" x="1749.7" y="801.9"/><use href="#v" x="1655.8" y="808.8"/><use href="#v" x="1727" y="810.2"/><use href="#v" x="1634.2" y="823.5"/><use href="#v" x="1656.4" y="829.6"/><use href="#v" x="1678.5" y="822.6"/><use href="#v" x="1704.9" y="824.9"/><use href="#v" x="1727.9" y="830.4"/><use href="#v" x="1749.7" y="824"/><use href="#v" x="1612" y="859.2"/><use href="#v" x="1591.3" y="868.4"/><use href="#v" x="1635.6" y="872.5"/><use href="#v" x="1612.6" y="880.8"/><use href="#v" x="1590.4" y="896.1"/><use href="#v" x="1635.6" y="894.7"/><use href="#v" x="1613.4" y="901.6"/><use href="#v" x="1607.3" y="913.5"/><use href="#v" x="1587.7" y="922.4"/><use href="#v" x="1631.4" y="926.5"/><use href="#v" x="1608.7" y="934.9"/><use href="#v" x="1586.5" y="949.5"/><use href="#v" x="1609.3" y="955.6"/><use href="#v" x="1631.4" y="948.7"/><use href="#v" x="1765.8" y="870.3"/><use href="#v" x="1745.6" y="879.4"/><use href="#v" x="1789.4" y="883.6"/><use href="#v" x="1766.6" y="891.9"/><use href="#v" x="1744.5" y="906.3"/><use href="#v" x="1767.2" y="912.7"/><use href="#v" x="1789.4" y="905.8"/><use href="#v" x="1709.6" y="916.3"/><use href="#v" x="1689.6" y="925.7"/><use href="#v" x="1733.4" y="929.3"/><use href="#v" x="1766.6" y="932.9"/><use href="#v" x="1710.4" y="937.6"/><use href="#v" x="1746.4" y="941.8"/><use href="#v" x="1790.8" y="945.4"/><use href="#v" x="1688.8" y="952.3"/><use href="#v" x="1711.8" y="959"/><use href="#v" x="1733.4" y="951.5"/><use href="#v" x="1767.2" y="953.4"/><use href="#v" x="1678" y="965.3"/><use href="#v" x="1658.6" y="975"/><use href="#v" x="1745" y="968.7"/><use href="#v" x="1768.6" y="974.5"/><use href="#v" x="1790.8" y="967.3"/><use href="#v" x="1702.9" y="978.4"/><use href="#v" x="1679.9" y="986.1"/><use href="#v" x="1746.4" y="983.4"/><use href="#v" x="1726.2" y="992.5"/><use href="#v" x="1770" y="995.8"/><use href="#v" x="1657.8" y="1001.4"/><use href="#v" x="1680.8" y="1007.5"/><use href="#v" x="1702.9" y="1000.5"/><use href="#v" x="1747.3" y="1005"/><use href="#v" x="1726.2" y="1019.4"/><use href="#v" x="1748.4" y="1025.5"/><use href="#v" x="1770" y="1018.8"/><use href="#v" x="1872.5" y="810.2"/><use href="#v" x="1892.7" y="801.9"/><use href="#v" x="1916.3" y="814.9"/><use href="#v" x="1830.4" y="822.6"/><use href="#v" x="1893.3" y="822.6"/><use href="#v" x="1939" y="797.7"/><use href="#v" x="1959.8" y="788.8"/><use href="#v" x="1960.6" y="809.6"/><use href="#v" x="1984.2" y="801.9"/><use href="#v" x="2006.9" y="803.8"/><use href="#v" x="2027.1" y="794.4"/><use href="#v" x="2050.7" y="808"/><use href="#v" x="2028.2" y="815.7"/><use href="#v" x="1939" y="825.4"/><use href="#v" x="1962" y="830.4"/><use href="#v" x="1984.2" y="824"/><use href="#v" x="2005.5" y="831"/><use href="#v" x="2028.2" y="836.5"/><use href="#v" x="2050.7" y="829.6"/><use href="#v" x="1830.9" y="843.4"/><use href="#v" x="1854.5" y="835.9"/><use href="#v" x="1871.9" y="837.3"/><use href="#v" x="1894.7" y="843.4"/><use href="#v" x="1916.8" y="836.5"/><use href="#v" x="1977.2" y="844.8"/><use href="#v" x="2050.7" y="847.6"/><use href="#v" x="1832.3" y="864.8"/><use href="#v" x="1855.3" y="858.1"/><use href="#v" x="1887.7" y="864.2"/><use href="#v" x="1908" y="854.5"/><use href="#v" x="1931.5" y="867.5"/><use href="#v" x="1957" y="853.1"/><use href="#v" x="1978.6" y="865.6"/><use href="#v" x="2001.3" y="858.1"/><use href="#v" x="2030.4" y="857.3"/><use href="#v" x="2051.2" y="868.4"/><use href="#v" x="2074.8" y="860.6"/><use href="#v" x="1909.3" y="875.8"/><use href="#v" x="1886.3" y="890.5"/><use href="#v" x="1909.9" y="896.9"/><use href="#v" x="1931.5" y="889.1"/><use href="#v" x="1956.4" y="880.8"/><use href="#v" x="1979.7" y="886.9"/><use href="#v" x="2001.3" y="880"/><use href="#v" x="2029.6" y="883.6"/><use href="#v" x="2052.6" y="889.7"/><use href="#v" x="2074.8" y="882.8"/><use href="#v" x="1966.7" y="988.9"/><use href="#v" x="1946.8" y="997.8"/><use href="#v" x="1990.8" y="1001.4"/><use href="#v" x="1967.5" y="1009.7"/><use href="#v" x="1945.9" y="1024.4"/><use href="#v" x="1968.9" y="1030.5"/><use href="#v" x="1991.1" y="1023"/><use href="#v" x="1673.6" y="245.5"/><use href="#v" x="1693.4" y="249.1"/><use href="#v" x="1711.5" y="244.1"/><use href="#v" x="1623.9" y="264.2"/><use href="#v" x="1643.4" y="268.2"/><use href="#v" x="1661.7" y="263.2"/><use href="#v" x="1685.3" y="264.2"/><use href="#v" x="1704.5" y="264.2"/><use href="#v" x="1732.7" y="261.2"/><use href="#v" x="1752.8" y="265.2"/><use href="#v" x="1770.6" y="260.2"/><use href="#v" x="1792.5" y="268.2"/><use href="#v" x="1812.3" y="272.3"/><use href="#v" x="1830.4" y="267.2"/><use href="#v" x="1635.9" y="283.4"/><use href="#v" x="1654.7" y="283.4"/><use href="#v" x="1683.7" y="279.7"/><use href="#v" x="1703.5" y="283.4"/><use href="#v" x="1721.6" y="278.3"/><use href="#v" x="1744.8" y="280.3"/><use href="#v" x="1763.5" y="280.3"/><use href="#v" x="1804.6" y="287"/><use href="#v" x="1823.8" y="287"/><use href="#v" x="1853.6" y="283.4"/><use href="#v" x="1873.7" y="287.4"/><use href="#v" x="1891.5" y="282.4"/><use href="#v" x="1695.4" y="298.5"/><use href="#v" x="1714.5" y="298.5"/><use href="#v" x="1751.4" y="296.5"/><use href="#v" x="1771.6" y="300.5"/><use href="#v" x="1789.7" y="295.5"/><use href="#v" x="1806.6" y="303.5"/><use href="#v" x="1826.4" y="307.5"/><use href="#v" x="1844.5" y="302.5"/><use href="#v" x="1865.3" y="302.5"/><use href="#v" x="1884.8" y="302.5"/><use href="#v" x="1703.9" y="316.6"/><use href="#v" x="1723.2" y="320.6"/><use href="#v" x="1741.7" y="315.6"/><use href="#v" x="1763.5" y="315.6"/><use href="#v" x="1782.6" y="315.6"/><use href="#v" x="1818.3" y="322.7"/><use href="#v" x="1837.5" y="322.7"/><use href="#v" x="1715.5" y="335.8"/><use href="#v" x="1734.3" y="335.4"/><use href="#v" x="1724.6" y="374"/><use href="#v" x="1704.5" y="383.7"/><use href="#v" x="1748.8" y="387.7"/><use href="#v" x="1725.6" y="395.6"/><use href="#v" x="1703.5" y="410.7"/><use href="#v" x="1681.9" y="418.4"/><use href="#v" x="1726.6" y="416.4"/><use href="#v" x="1748.8" y="409.3"/><use href="#v" x="1661.5" y="427.4"/><use href="#v" x="1705.5" y="431.5"/><use href="#v" x="1682.3" y="439.5"/><use href="#v" x="1745.4" y="447.6"/><use href="#v" x="1660.7" y="454.6"/><use href="#v" x="1683.3" y="460.7"/><use href="#v" x="1705.5" y="453.6"/><use href="#v" x="1725.6" y="456.7"/><use href="#v" x="1769.5" y="460.7"/><use href="#v" x="1746.8" y="468.8"/><use href="#v" x="1676.9" y="479.8"/><use href="#v" x="1656.7" y="488.5"/><use href="#v" x="1724.6" y="483.9"/><use href="#v" x="1747.8" y="489.9"/><use href="#v" x="1769.5" y="482.5"/><use href="#v" x="1700.4" y="492.9"/><use href="#v" x="1677.9" y="500.6"/><use href="#v" x="1655.5" y="515.1"/><use href="#v" x="1701" y="514.1"/><use href="#v" x="1678.9" y="521.1"/><use href="#v" x="1632.5" y="522.2"/><use href="#v" x="1612.8" y="531.2"/><use href="#v" x="1656.7" y="535.3"/><use href="#v" x="1633.5" y="543.3"/><use href="#v" x="1611.8" y="558.4"/><use href="#v" x="1634.9" y="564.5"/><use href="#v" x="1656.7" y="557.4"/><use href="#v" x="1549.7" y="538.3"/><use href="#v" x="1529.7" y="547.3"/><use href="#v" x="1573.9" y="551.4"/><use href="#v" x="1550.3" y="559.4"/><use href="#v" x="1529.1" y="574.5"/><use href="#v" x="1551.7" y="580.6"/><use href="#v" x="1573.5" y="573.5"/><use href="#v" x="1799.8" y="524.2"/><use href="#v" x="1779.6" y="533.2"/><use href="#v" x="1823.8" y="537.3"/><use href="#v" x="1800.6" y="545.3"/><use href="#v" x="1779" y="559.4"/><use href="#v" x="1801.6" y="565.5"/><use href="#v" x="1823.8" y="559.4"/><use href="#v" x="1946.6" y="1157.2"/><use href="#v" x="1926.7" y="1166.1"/><use href="#v" x="1970.6" y="1170.5"/><use href="#v" x="1947.3" y="1178.2"/><use href="#v" x="1909.6" y="1193.3"/><use href="#v" x="1925.8" y="1193.3"/><use href="#v" x="1948.4" y="1199.3"/><use href="#v" x="1970.6" y="1192"/><use href="#v" x="1889.7" y="1202.2"/><use href="#v" x="1933.6" y="1206.6"/><use href="#v" x="1833.8" y="1213.7"/><use href="#v" x="1910.7" y="1214.2"/><use href="#v" x="1813.9" y="1222.6"/><use href="#v" x="1857.5" y="1226.6"/><use href="#v" x="1888.6" y="1229.2"/><use href="#v" x="1911.8" y="1234.8"/><use href="#v" x="1933.6" y="1228.1"/><use href="#v" x="1834.7" y="1234.3"/><use href="#v" x="1965.7" y="1243"/><use href="#v" x="1812.8" y="1249.2"/><use href="#v" x="1857.5" y="1248.1"/><use href="#v" x="1835.8" y="1255.2"/><use href="#v" x="1945.8" y="1252.5"/><use href="#v" x="1989.9" y="1256.5"/><use href="#v" x="1899" y="1258.5"/><use href="#v" x="1966.8" y="1264.3"/><use href="#v" x="1791.7" y="1270.2"/><use href="#v" x="1878.6" y="1267.4"/><use href="#v" x="1922.9" y="1271.3"/><use href="#v" x="1771.5" y="1279.1"/><use href="#v" x="1815.4" y="1283.5"/><use href="#v" x="1899.6" y="1279.1"/><use href="#v" x="1944.6" y="1279.1"/><use href="#v" x="1989.9" y="1278.4"/><use href="#v" x="1967.7" y="1285.3"/><use href="#v" x="1792.8" y="1291.3"/><use href="#v" x="1877.5" y="1294.6"/><use href="#v" x="1900.8" y="1300.2"/><use href="#v" x="1922.9" y="1293.5"/><use href="#v" x="2017.1" y="1295.3"/><use href="#v" x="1996.7" y="1304.2"/><use href="#v" x="2065.9" y="1300.2"/><use href="#v" x="2085.4" y="1290.9"/><use href="#v" x="2109.8" y="1304.6"/><use href="#v" x="1771.1" y="1306.4"/><use href="#v" x="1793.7" y="1312.4"/><use href="#v" x="1815.9" y="1305.3"/><use href="#v" x="1853.8" y="1306.8"/><use href="#v" x="1833.8" y="1315.2"/><use href="#v" x="1877.5" y="1319"/><use href="#v" x="1926.9" y="1321.2"/><use href="#v" x="1947.3" y="1312.4"/><use href="#v" x="2040.8" y="1308.6"/><use href="#v" x="2017.6" y="1316.1"/><use href="#v" x="2086.3" y="1312.4"/><use href="#v" x="1854.9" y="1327.2"/><use href="#v" x="1970.6" y="1325.7"/><use href="#v" x="1948" y="1333.4"/><use href="#v" x="1995.6" y="1331.2"/><use href="#v" x="2018.2" y="1337.4"/><use href="#v" x="2041.1" y="1330.1"/><use href="#v" x="2064.8" y="1327.4"/><use href="#v" x="2087.4" y="1333.4"/><use href="#v" x="2109.8" y="1326.3"/><use href="#v" x="2125.7" y="1335.6"/><use href="#v" x="2145.7" y="1327.9"/><use href="#v" x="2170.1" y="1340.1"/><use href="#v" x="1832.7" y="1342.3"/><use href="#v" x="1878.1" y="1341.2"/><use href="#v" x="1855.8" y="1347.8"/><use href="#v" x="1925.8" y="1347.8"/><use href="#v" x="1971" y="1346.7"/><use href="#v" x="1948.4" y="1354.5"/><use href="#v" x="2080.3" y="1351.1"/><use href="#v" x="2146.8" y="1347.8"/><use href="#v" x="1899.2" y="1359.6"/><use href="#v" x="2019.8" y="1360"/><use href="#v" x="2061" y="1360"/><use href="#v" x="1878.6" y="1368.4"/><use href="#v" x="1922.9" y="1372.2"/><use href="#v" x="1964.4" y="1374.4"/><use href="#v" x="1999.8" y="1369.3"/><use href="#v" x="2043.7" y="1373.3"/><use href="#v" x="2081.9" y="1372.2"/><use href="#v" x="2104.7" y="1364.4"/><use href="#v" x="2124.6" y="1363.3"/><use href="#v" x="2147.5" y="1369.3"/><use href="#v" x="2169.6" y="1362.7"/><use href="#v" x="1900.1" y="1380"/><use href="#v" x="1944.4" y="1383.3"/><use href="#v" x="1988.8" y="1387.1"/><use href="#v" x="2020.9" y="1381.7"/><use href="#v" x="2059.9" y="1387.7"/><use href="#v" x="2104.7" y="1386.6"/><use href="#v" x="2143.5" y="1383.3"/><use href="#v" x="1877.9" y="1395.5"/><use href="#v" x="1900.8" y="1401"/><use href="#v" x="1922.9" y="1394.4"/><use href="#v" x="1965.7" y="1395.5"/><use href="#v" x="1998.7" y="1396.6"/><use href="#v" x="2021.6" y="1402.1"/><use href="#v" x="2043.7" y="1395.5"/><use href="#v" x="2082.5" y="1393.3"/><use href="#v" x="2123.5" y="1392.2"/><use href="#v" x="2167.9" y="1396.6"/><use href="#v" x="1944" y="1409.9"/><use href="#v" x="1988.3" y="1408.8"/><use href="#v" x="2144.6" y="1404.3"/><use href="#v" x="1966.6" y="1416.5"/><use href="#v" x="2007.8" y="1432.1"/><use href="#v" x="2122.9" y="1419.9"/><use href="#v" x="2145.7" y="1425.4"/><use href="#v" x="2167.9" y="1418.1"/><use href="#v" x="2757.6" y="2787"/><use href="#v" x="2779.7" y="2780"/><use href="#v" x="2285" y="1660.9"/><use href="#v" x="2329.1" y="1666"/><use href="#v" x="2306.4" y="1673.5"/><use href="#v" x="2283.8" y="1688.7"/><use href="#v" x="2329.1" y="1687.4"/><use href="#v" x="2307.7" y="1694.9"/><use href="#v" x="2369.4" y="1673.5"/><use href="#v" x="2389.6" y="1664.7"/><use href="#v" x="2413.5" y="1678.6"/><use href="#v" x="2390.8" y="1686.1"/><use href="#v" x="2345.5" y="1706.3"/><use href="#v" x="2368.2" y="1701.2"/><use href="#v" x="2392.1" y="1707.5"/><use href="#v" x="2413.5" y="1700"/><use href="#v" x="2325.3" y="1715.1"/><use href="#v" x="2346" y="1727.7"/><use href="#v" x="2368.2" y="1718.9"/><use href="#v" x="2426.1" y="1716.4"/><use href="#v" x="2324.1" y="1742.8"/><use href="#v" x="2346.8" y="1749.1"/><use href="#v" x="2368.2" y="1741.5"/><use href="#v" x="2424.8" y="1744.1"/><use href="#v" x="2446.2" y="1649.6"/><use href="#v" x="2466.9" y="1640.3"/><use href="#v" x="2491.1" y="1653.4"/><use href="#v" x="2467.7" y="1660.9"/><use href="#v" x="2445.7" y="1676.8"/><use href="#v" x="2468.4" y="1682.4"/><use href="#v" x="2491.1" y="1675.6"/><use href="#v" x="2579.7" y="1565.2"/><use href="#v" x="2559.6" y="1574.8"/><use href="#v" x="2603.7" y="1578.3"/><use href="#v" x="2580.3" y="1586.6"/><use href="#v" x="2558.3" y="1601.8"/><use href="#v" x="2581.5" y="1608"/><use href="#v" x="2603.7" y="1601"/><use href="#v" x="2576.5" y="1626.2"/><use href="#v" x="2556.6" y="1635.8"/><use href="#v" x="2600.4" y="1639.5"/><use href="#v" x="2578" y="1647.6"/><use href="#v" x="2555.8" y="1662.2"/><use href="#v" x="2579" y="1668.5"/><use href="#v" x="2600.7" y="1660.9"/><use href="#v" x="2518.8" y="1694.2"/><use href="#v" x="2498.6" y="1703.8"/><use href="#v" x="2543.2" y="1707.5"/><use href="#v" x="2519.3" y="1715.1"/><use href="#v" x="2446.2" y="1707.5"/><use href="#v" x="2470.2" y="1720.9"/><use href="#v" x="2446.2" y="1729"/><use href="#v" x="2497.9" y="1730.2"/><use href="#v" x="2520.6" y="1736.5"/><use href="#v" x="2543.2" y="1729.5"/><use href="#v" x="2470.2" y="1742.8"/><use href="#v" x="2447.5" y="1749.6"/><use href="#v" x="2609.2" y="1689.2"/><use href="#v" x="2629.4" y="1679.8"/><use href="#v" x="2653.6" y="1693.2"/><use href="#v" x="2630.9" y="1701.2"/><use href="#v" x="2608.7" y="1715.9"/><use href="#v" x="2630.9" y="1722.7"/><use href="#v" x="2653.6" y="1715.1"/><use href="#v" x="2581" y="1726.4"/><use href="#v" x="2560.9" y="1735.3"/><use href="#v" x="2604.9" y="1739"/><use href="#v" x="2582.3" y="1747.8"/><use href="#v" x="2559.6" y="1762.2"/><use href="#v" x="2582.3" y="1768"/><use href="#v" x="2604.9" y="1761.2"/><use href="#v" x="2300.2" y="1781.3"/><use href="#v" x="2319.8" y="1771.8"/><use href="#v" x="2320.3" y="1793.2"/><use href="#v" x="2343.5" y="1785.6"/><use href="#v" x="2298.9" y="1808.3"/><use href="#v" x="2321.6" y="1814.6"/><use href="#v" x="2343.5" y="1807"/><use href="#v" x="2370.7" y="1768"/><use href="#v" x="2390.8" y="1759.2"/><use href="#v" x="2392.1" y="1780.6"/><use href="#v" x="2370.7" y="1795.7"/><use href="#v" x="2392.8" y="1801.5"/><use href="#v" x="2414.8" y="1771.8"/><use href="#v" x="2414.8" y="1794.4"/><use href="#v" x="2443.7" y="1778.8"/><use href="#v" x="2463.9" y="1770.5"/><use href="#v" x="2465.1" y="1791.9"/><use href="#v" x="2487.8" y="1783.1"/><use href="#v" x="2443.2" y="1806.5"/><use href="#v" x="2465.9" y="1812.6"/><use href="#v" x="2487.8" y="1805.8"/><use href="#v" x="2518.8" y="1790.7"/><use href="#v" x="2538.9" y="1780.6"/><use href="#v" x="2539.4" y="1802"/><use href="#v" x="2562.9" y="1794.4"/><use href="#v" x="2517.3" y="1817.9"/><use href="#v" x="2540.7" y="1822.9"/><use href="#v" x="2562.9" y="1815.4"/><use href="#v" x="2576" y="1831"/><use href="#v" x="2591.8" y="1839.8"/><use href="#v" x="2615" y="1822.9"/><use href="#v" x="2632.6" y="1819.6"/><use href="#v" x="2622.6" y="1838.5"/><use href="#v" x="2555.1" y="1849.4"/><use href="#v" x="2572.7" y="1848.6"/><use href="#v" x="2607.5" y="1848.6"/><use href="#v" x="2587.8" y="1858.7"/><use href="#v" x="2642" y="1765.5"/><use href="#v" x="2658.6" y="1765.5"/><use href="#v" x="2678.7" y="1757.4"/><use href="#v" x="2698.1" y="1758.7"/><use href="#v" x="2713.2" y="1769.3"/><use href="#v" x="2650.3" y="1785.6"/><use href="#v" x="2670.4" y="1777.6"/><use href="#v" x="2688.8" y="1773"/><use href="#v" x="2699.4" y="1784.4"/><use href="#v" x="2715.3" y="1785.6"/><use href="#v" x="2640.7" y="1798.2"/><use href="#v" x="2677.5" y="1797"/><use href="#v" x="2693.6" y="1804.5"/><use href="#v" x="2708.2" y="1800.2"/><use href="#v" x="2665.4" y="1813.3"/><use href="#v" x="2680.5" y="1822.9"/><use href="#v" x="2693.9" y="1820.4"/><use href="#v" x="1211.8" y="1280.2"/><use href="#v" x="1218.8" y="1296.7"/><use href="#v" x="1232.6" y="1307.4"/><use href="#v" x="1303.8" y="1304.2"/><use href="#v" x="1319.8" y="1308.2"/><use href="#v" x="2707.8" y="2415.3"/><use href="#v" x="2744" y="2472.3"/><use href="#v" x="2754" y="2482.4"/><use href="#v" x="2913.6" y="1498.5"/><use href="#v" x="2934" y="1503.3"/><use href="#v" x="2952" y="1497.4"/><use href="#v" x="2926.7" y="1517"/><use href="#v" x="2945.4" y="1517"/><use href="#v" x="2824" y="1238.4"/><use href="#v" x="2803.7" y="1251.4"/><use href="#v" x="2824" y="1257"/><use href="#v" x="2766.4" y="1279.4"/><use href="#v" x="2788.8" y="1275.6"/><use href="#v" x="2811" y="1279.4"/><use href="#v" x="2843" y="1278.6"/><use href="#v" x="2781.3" y="1297.3"/><use href="#v" x="2798" y="1298.8"/><use href="#v" x="2825.3" y="1298.8"/><use href="#v" x="2855.2" y="1308.5"/><use href="#v" x="2829.8" y="1324.2"/><use href="#v" x="2867.9" y="1328"/><use href="#v" x="2844.6" y="1342.9"/><use href="#v" x="2808.2" y="1352.2"/><use href="#v" x="2862.6" y="1361.5"/><use href="#v" x="2908.2" y="1372.7"/><use href="#v" x="2883.9" y="1382.8"/><use href="#c" x="1771.5" y="475.4"/><use href="#c" x="1788.5" y="486.1"/><use href="#c" x="1809.8" y="497.6"/><use href="#c" x="1826.9" y="506.1"/><use href="#c" x="1846.1" y="510.4"/><use href="#c" x="1731" y="567.1"/><use href="#c" x="1748" y="575.6"/><use href="#c" x="1769.3" y="588.4"/><use href="#c" x="1786.5" y="594.8"/><use href="#c" x="1805.5" y="601.2"/><use href="#c" x="1777.9" y="724.9"/><use href="#c" x="1794.9" y="735.6"/><use href="#c" x="1756.5" y="749.2"/><use href="#c" x="1773.5" y="759"/><use href="#c" x="1814.1" y="746.2"/><use href="#c" x="1833.3" y="754.6"/><use href="#c" x="1851.5" y="759.8"/><use href="#c" x="1792.8" y="769.6"/><use href="#c" x="1812" y="777.3"/><use href="#c" x="1831.2" y="782.4"/><use href="#c" x="1792.8" y="972.2"/><use href="#c" x="1812" y="976.4"/><use href="#c" x="1835.5" y="982.8"/><use href="#c" x="1854.5" y="984.9"/><use href="#c" x="1873.8" y="984.1"/><use href="#c" x="1790.5" y="1010.6"/><use href="#c" x="1807.7" y="1019"/><use href="#c" x="1826.9" y="1031.9"/><use href="#c" x="1844" y="1040.4"/><use href="#c" x="1863.1" y="1044.6"/><use href="#c" x="1888.7" y="1045.9"/><use href="#c" x="1907.9" y="1055.4"/><use href="#c" x="1831.2" y="1053.2"/><use href="#c" x="1848.2" y="1063"/><use href="#c" x="1869.5" y="1072.4"/><use href="#c" x="1886.5" y="1081.8"/><use href="#c" x="1905.5" y="1085.2"/><use href="#c" x="1927.1" y="1068.2"/><use href="#c" x="1944.1" y="1074.6"/><use href="#c" x="1963.3" y="1078.8"/><use href="#c" x="1551.9" y="1048.9"/><use href="#c" x="1570.2" y="1057.4"/><use href="#c" x="1590.3" y="1070.3"/><use href="#c" x="1607.3" y="1077.9"/><use href="#c" x="1626.5" y="1083"/><use href="#c" x="1804.9" y="1105"/><use href="#c" x="1822.5" y="1114.6"/><use href="#c" x="1841.6" y="1125.8"/><use href="#c" x="1859.2" y="1133.7"/><use href="#c" x="1878.4" y="1138.6"/><use href="#c" x="1944" y="1125.8"/><use href="#c" x="1961.5" y="1132.1"/><use href="#c" x="1984" y="1140.1"/><use href="#c" x="2003.1" y="1144.9"/><use href="#c" x="2022.3" y="1148.1"/><use href="#c" x="1976" y="1098.6"/><use href="#c" x="1991.9" y="1108.2"/><use href="#c" x="2012.7" y="1119.4"/><use href="#c" x="2030.3" y="1127.4"/><use href="#c" x="2049.5" y="1133.1"/><use href="#c" x="2062.3" y="1145.9"/><use href="#c" x="2079.9" y="1155.5"/><use href="#c" x="2100.7" y="1167.3"/><use href="#c" x="2118.3" y="1175.3"/><use href="#c" x="2136.8" y="1180.1"/><use href="#c" x="2119.9" y="1242.5"/><use href="#c" x="2137.5" y="1250.5"/><use href="#c" x="2159.8" y="1260.1"/><use href="#c" x="2177.5" y="1266.5"/><use href="#c" x="2196.6" y="1269.6"/><use href="#c" x="2167.8" y="1355.1"/><use href="#c" x="2185.5" y="1364.6"/><use href="#c" x="2206.2" y="1375.2"/><use href="#c" x="2223.8" y="1384.8"/><use href="#c" x="2243" y="1388"/><use href="#c" x="2169.5" y="1585.3"/><use href="#c" x="2188.5" y="1588.8"/><use href="#c" x="2212.5" y="1593.6"/><use href="#c" x="2231.8" y="1595.8"/><use href="#c" x="2251" y="1594.3"/><use href="#c" x="2181" y="1666.6"/><use href="#c" x="2199.7" y="1670.6"/><use href="#c" x="2222.3" y="1674.6"/><use href="#c" x="2242.3" y="1678.6"/><use href="#c" x="2262.3" y="1675.9"/><use href="#c" x="2211.7" y="1842.4"/><use href="#c" x="2229" y="1851.7"/><use href="#c" x="2250.3" y="1862.4"/><use href="#c" x="2267.6" y="1871.7"/><use href="#c" x="2286.8" y="1876.3"/><use href="#c" x="2304.9" y="1889.6"/><use href="#c" x="2319.6" y="1898.4"/><use href="#c" x="2336.9" y="1907.7"/><use href="#c" x="2355.5" y="1918.4"/><use href="#c" x="2374.2" y="1927.7"/><use href="#c" x="2391.5" y="1937"/><use href="#c" x="2411.5" y="1949"/><use href="#c" x="2430.2" y="1957"/><use href="#c" x="2446.2" y="1961"/><use href="#c" x="2396.9" y="1995.6"/><use href="#c" x="2415.5" y="1999.6"/><use href="#c" x="2438.2" y="2003.6"/><use href="#c" x="2457.2" y="2007.8"/><use href="#c" x="2475.9" y="2005.9"/><use href="#c" x="2464.7" y="1976.1"/><use href="#c" x="2483.3" y="1985.4"/><use href="#c" x="2500.1" y="1994.6"/><use href="#c" x="2518.8" y="2004.1"/><use href="#c" x="2498.2" y="2016"/><use href="#c" x="2516.1" y="2019.8"/><use href="#c" x="2533.7" y="2023.5"/><use href="#c" x="2554.2" y="2027.2"/><use href="#c" x="2578.5" y="2026.1"/><use href="#c" x="2600.8" y="2032.8"/><use href="#c" x="2623.2" y="2029.1"/><use href="#c" x="2641.9" y="2032.8"/><use href="#c" x="2664.3" y="2038.4"/><use href="#c" x="2684.8" y="2040.3"/><use href="#c" x="2705.3" y="2039.6"/><use href="#c" x="2725.8" y="2048.5"/><use href="#c" x="2742.5" y="2053.4"/><use href="#c" x="2761.3" y="2056"/><use href="#c" x="2781.8" y="2060.8"/><use href="#c" x="2615.8" y="2044"/><use href="#c" x="2634.5" y="2051.5"/><use href="#c" x="2649.3" y="2063.4"/><use href="#c" x="2668" y="2070.9"/><use href="#c" x="2686.7" y="2078.4"/><use href="#c" x="2701.5" y="2085.1"/><use href="#c" x="2712.8" y="2093.3"/><use href="#c" x="2528.8" y="2116.8"/><use href="#c" x="2548.6" y="2119.4"/><use href="#c" x="2568.4" y="2118.6"/><use href="#c" x="2589.7" y="2126.1"/><use href="#c" x="2606.5" y="2130.6"/><use href="#c" x="2625.1" y="2133.6"/><use href="#c" x="2645.6" y="2137.3"/><use href="#c" x="2446" y="2129.8"/><use href="#c" x="2464.7" y="2133.6"/><use href="#c" x="2487.1" y="2139.2"/><use href="#c" x="2505.7" y="2141.8"/><use href="#c" x="2526.2" y="2141"/><use href="#c" x="2546.7" y="2148.5"/><use href="#c" x="2564.7" y="2154.1"/><use href="#c" x="2584.1" y="2156.7"/><use href="#c" x="2602.7" y="2162.6"/><use href="#c" x="2681.1" y="2166.4"/><use href="#c" x="2697.8" y="2169"/><use href="#c" x="2714.6" y="2172.7"/><use href="#c" x="2733.3" y="2175.4"/><use href="#c" x="2748.2" y="2179.1"/><use href="#c" x="2765" y="2182.1"/><use href="#c" x="2681.1" y="2185.1"/><use href="#c" x="2705.3" y="2182.8"/><use href="#c" x="2724" y="2189.6"/><use href="#c" x="2742.5" y="2191.4"/><use href="#c" x="2766.1" y="2196.3"/><use href="#c" x="2742.5" y="2126.9"/><use href="#c" x="2753.8" y="2139.2"/><use href="#c" x="2455.3" y="2208.9"/><use href="#c" x="2474" y="2213.8"/><use href="#c" x="2496.4" y="2217.6"/><use href="#c" x="2516.9" y="2221.3"/><use href="#c" x="2536.3" y="2220.1"/><use href="#c" x="2557.2" y="2227.6"/><use href="#c" x="2574.7" y="2233.6"/><use href="#c" x="2593.4" y="2237.3"/><use href="#c" x="2613.9" y="2241"/><use href="#c" x="2471" y="2310.8"/><use href="#c" x="2490.8" y="2313.8"/><use href="#c" x="2513.2" y="2319.4"/><use href="#c" x="2532.5" y="2322"/><use href="#c" x="2553.1" y="2320.9"/><use href="#c" x="2572.9" y="2329.4"/><use href="#c" x="2590.8" y="2334.3"/><use href="#c" x="2609.5" y="2336.9"/><use href="#c" x="2630" y="2341.8"/><use href="#c" x="2671.7" y="2395.5"/><use href="#c" x="2690.4" y="2389.1"/><use href="#c" x="2710.9" y="2387.3"/><use href="#c" x="2729.5" y="2385.4"/><use href="#c" x="2712.8" y="2488"/><use href="#c" x="2733.3" y="2514.1"/><use href="#c" x="2750.1" y="2521.6"/><use href="#c" x="2843.6" y="2721.4"/><use href="#c" x="2848.1" y="2735"/><use href="#c" x="2852.7" y="2748.6"/><use href="#c" x="2857.2" y="2765.2"/><use href="#c" x="2864.8" y="2779.4"/><use href="#c" x="2869.3" y="2791.6"/><use href="#c" x="2768.7" y="1390.3"/><use href="#c" x="2791.1" y="1392.2"/><use href="#c" x="2815.4" y="1395.9"/><use href="#c" x="2835.9" y="1399.6"/><use href="#c" x="2858.3" y="1404.5"/><use href="#c" x="2880.7" y="1407.1"/><use href="#c" x="2826.5" y="1426.9"/><use href="#c" x="2845.2" y="1432.1"/><use href="#c" x="2865.7" y="1441.4"/><use href="#c" x="2884.4" y="1450.6"/><use href="#c" x="2901.2" y="1461.2"/><use href="#c" x="2740.8" y="1647"/><use href="#c" x="2761.3" y="1650.3"/><use href="#c" x="2779.9" y="1654.5"/><use href="#c" x="2798.5" y="1658.2"/><use href="#c" x="2847.1" y="1685.8"/><use href="#c" x="2865.7" y="1691.4"/><use href="#c" x="2884.4" y="1696.2"/><use href="#c" x="2724" y="1732.8"/><use href="#c" x="2742.5" y="1726.1"/><use href="#c" x="2765" y="1716.8"/><use href="#c" x="2789.3" y="1713"/><use href="#c" x="2621.4" y="990.3"/><use href="#c" x="2641.9" y="992.1"/><use href="#c" x="2662.5" y="994.8"/><use href="#c" x="2680.3" y="997"/><use href="#c" x="2636.3" y="1033.9"/><use href="#c" x="2656.8" y="1035.8"/><use href="#c" x="2674.7" y="1037.6"/><use href="#c" x="2681.1" y="1143.3"/><use href="#c" x="2701.5" y="1150"/><use href="#c" x="2720.2" y="1157.4"/><use href="#c" x="2735.2" y="1166.4"/><use href="#c" x="2682.9" y="1209.6"/><use href="#c" x="2703.5" y="1216"/><use href="#c" x="2722.1" y="1220.8"/><use href="#c" x="2737" y="1228.3"/><use href="#c" x="2751.2" y="1235.4"/><use href="#c" x="1550.5" y="1110.6"/><use href="#c" x="1567.5" y="1110.6"/><use href="#c" x="1591.1" y="1110.6"/><use href="#c" x="1610.3" y="1110.6"/><use href="#c" x="1629.5" y="1106.2"/><use href="#c" x="1240.1" y="1249.1"/><use href="#c" x="1258.5" y="1249.1"/><use href="#c" x="1279.8" y="1249.1"/><use href="#c" x="1230.8" y="1293.9"/><use href="#c" x="1243.5" y="1306.6"/><use href="#c" x="1260.5" y="1315.2"/><use href="#c" x="1276.8" y="1325"/><use href="#c" x="1296.8" y="1332.2"/><use href="#c" x="1313.9" y="1338.6"/><use href="#c" x="1328" y="1350.6"/><use href="#c" x="1335.2" y="1365.1"/><use href="#c" x="1437.5" y="1334.4"/><use href="#c" x="1456.7" y="1339.5"/><use href="#c" x="1480.2" y="1346.3"/><use href="#c" x="1497.3" y="1350.1"/><use href="#c" x="1517.3" y="1350.1"/><use href="#c" x="1435.5" y="1362.1"/><use href="#c" x="1454.6" y="1366.3"/><use href="#c" x="1477.2" y="1372.7"/><use href="#c" x="1495.1" y="1377"/><use href="#c" x="1516.5" y="1377"/><use href="#c" x="1284.1" y="1391.9"/><use href="#c" x="1305.4" y="1398.3"/><use href="#c" x="1326.7" y="1404.7"/><use href="#c" x="1345.9" y="1410.3"/><use href="#c" x="1299" y="1519.8"/><use href="#c" x="1338.2" y="1528.4"/><use href="#c" x="1284.1" y="1538.2"/><use href="#c" x="1303.2" y="1541.2"/><use href="#c" x="1324.5" y="1546.3"/><use href="#c" x="1284.1" y="1649.9"/><use href="#c" x="1304.1" y="1655.1"/><use href="#c" x="1324.5" y="1660.6"/><use href="#c" x="1348" y="1663.6"/><use href="#c" x="1367.2" y="1664.8"/><use href="#c" x="1279.8" y="1720.3"/><use href="#c" x="1301.1" y="1720.3"/><use href="#c" x="1322.5" y="1721.6"/><use href="#c" x="1345" y="1722.4"/><use href="#c" x="1366.3" y="1724.6"/><use href="#c" x="1386.5" y="1725.8"/><use href="#c" x="1406.5" y="1725.8"/><use href="#c" x="1430.3" y="1890.4"/><use href="#c" x="1451.1" y="1887.9"/><use href="#c" x="1473.5" y="1884.1"/><use href="#c" x="1425.5" y="1932"/><use href="#c" x="1444.7" y="1936.2"/><use href="#c" x="1465.5" y="1941.6"/><use href="#c" x="1484.7" y="1949.6"/><use href="#c" x="1506.1" y="1959.2"/><use href="#c" x="1529.5" y="1962.4"/><use href="#c" x="1550.3" y="1970.4"/><use href="#c" x="1567.8" y="1978.4"/><use href="#c" x="1545.5" y="2066.3"/><use href="#c" x="1564.5" y="2068.9"/><use href="#c" x="1585.5" y="2067.9"/><use href="#c" x="1607.2" y="2067.3"/><use href="#c" x="1516.7" y="2255"/><use href="#c" x="1540" y="2251.8"/><use href="#c" x="1561.5" y="2248.6"/><use href="#c" x="1583.8" y="2243.8"/><use href="#c" x="1601.5" y="2238.3"/><use href="#c" x="1535.9" y="2320.6"/><use href="#c" x="1558.2" y="2318.9"/><use href="#c" x="1579" y="2323.6"/><use href="#c" x="1598.2" y="2329.2"/><use href="#c" x="1617.5" y="2333.3"/><use href="#c" x="1492.1" y="2390.9"/><use href="#c" x="1510.3" y="2384.5"/><use href="#c" x="1530.5" y="2381.3"/><use href="#c" x="1550.3" y="2375.9"/><use href="#c" x="1569.5" y="2372.6"/><use href="#c" x="1588.5" y="2366.9"/><use href="#c" x="1608.5" y="2361.1"/><use href="#c" x="1510.3" y="2413.3"/><use href="#c" x="445.5" y="1870.6"/><use href="#c" x="466.4" y="1862.6"/><use href="#c" x="485.5" y="1854.6"/><use href="#c" x="506.3" y="1845.1"/><use href="#c" x="525.5" y="1837.1"/><use href="#c" x="544.7" y="1830.6"/><use href="#c" x="563.9" y="1824.3"/><use href="#c" x="520.7" y="1854.6"/><use href="#c" x="541.5" y="1861.1"/><use href="#c" x="562.3" y="1867.6"/><use href="#c" x="583.1" y="1872.3"/><use href="#c" x="602.3" y="1881.9"/><use href="#c" x="621.5" y="1888.3"/><use href="#c" x="640.5" y="1894.6"/><use href="#c" x="420" y="1942.6"/><use href="#c" x="440.8" y="1941"/><use href="#c" x="461.5" y="1941"/><use href="#c" x="484" y="1939.5"/><use href="#c" x="506.3" y="1941"/><use href="#c" x="525.5" y="1940.4"/><use href="#c" x="544.7" y="1938.5"/><use href="#c" x="418.4" y="2088.1"/><use href="#c" x="440.8" y="2084.9"/><use href="#c" x="461.5" y="2084.9"/><use href="#c" x="484" y="2083.3"/><use href="#c" x="506.3" y="2083.3"/><use href="#c" x="527.1" y="2083.3"/><use href="#c" x="546.3" y="2081.7"/><use href="#c" x="418.4" y="2124.9"/><use href="#c" x="439.2" y="2128.1"/><use href="#c" x="460" y="2134.5"/><use href="#c" x="481.4" y="2138.6"/><use href="#c" x="503.1" y="2145"/><use href="#c" x="522.3" y="2150.6"/><use href="#c" x="541.5" y="2153.6"/><use href="#c" x="416.8" y="2267.2"/><use href="#c" x="438.5" y="2264"/><use href="#c" x="460" y="2262.4"/><use href="#c" x="481.4" y="2260.2"/><use href="#c" x="503.8" y="2259.2"/><use href="#c" x="523.9" y="2257.6"/><use href="#c" x="544.1" y="2255.1"/><use href="#c" x="412" y="2449.5"/><use href="#c" x="433.5" y="2446.3"/><use href="#c" x="454.5" y="2444.6"/><use href="#c" x="476" y="2441.5"/><use href="#c" x="498.3" y="2441.5"/><use href="#c" x="518.5" y="2439.2"/><use href="#c" x="538.3" y="2436.6"/><use href="#c" x="408.8" y="2481.5"/><use href="#c" x="431.2" y="2481.5"/><use href="#c" x="474.4" y="2484"/><use href="#c" x="495.1" y="2486.3"/><use href="#c" x="516.5" y="2489.5"/><use href="#c" x="536.1" y="2490.4"/><use href="#c" x="393.8" y="2529.4"/><use href="#c" x="416.1" y="2530.1"/><use href="#c" x="436.9" y="2531"/><use href="#c" x="459" y="2532.6"/><use href="#c" x="480.8" y="2535.8"/><use href="#c" x="501.5" y="2537.4"/><use href="#c" x="520.7" y="2538.4"/><use href="#c" transform="translate(2138.4,1747.8) rotate(-22)"/><use href="#c" transform="translate(2157,1741.1) rotate(-22)"/><use href="#c" transform="translate(2179.7,1734.5) rotate(-22)"/><use href="#c" transform="translate(2198.3,1728.6) rotate(-22)"/><use href="#c" transform="translate(2215.7,1717.2) rotate(-22)"/><use href="#c" transform="translate(2237,1714.5) rotate(-22)"/><use href="#c" transform="translate(2254.3,1710.5) rotate(-22)"/><use href="#c" transform="translate(2273,1704.6) rotate(-22)"/><use href="#c" transform="translate(2293,1698.5) rotate(-22)"/><path d="M273.9,2782 L334.2,2740.7 L382.2,2726 L433.6,2727 L501.8,2762.1" stroke="#474747" stroke-width="2.2" fill="none" stroke-linejoin="round"/><path d="M1277.2,2898.9 L1424.7,2879 L1500.9,2837 L1535.7,2821 L1578,2820 L1677.7,2861.1 L1799.6,2884.4" stroke="#474747" stroke-width="2.2" fill="none" stroke-linejoin="round"/><path d="M1472.2,2739.9 L1509.2,2742.9 L1525.5,2752.4 L1537.2,2777.8 L1541,2818.3" stroke="#474747" stroke-width="2.2" fill="none" stroke-linejoin="round"/><path d="M2724.3,2912.2 L2808.3,2837.2 L2820.4,2831.1 L2865.8,2807.6 L2914.2,2798.5 L2974.6,2767.7 L3026.6,2722.3" stroke="#474747" stroke-width="2.2" fill="none" stroke-linejoin="round"/><path d="M1800.8,809.5 L1652.8,947.3 L1600,1130" stroke="#474747" stroke-width="2.2" fill="none" stroke-linejoin="round"/><path d="M1566.7,1219 L1355,1570" stroke="#474747" stroke-width="2.2" fill="none" stroke-linejoin="round"/><path d="M2492,2052 L2254.5,2074" stroke="#474747" stroke-width="2.2" fill="none" stroke-linejoin="round"/><path d="M1759.5,387 L1793,386.5" stroke="#4a4a4a" stroke-width="2"/><path d="M1767.9,386.9l6,5M1784.6,386.6l6,5" stroke="#4a4a4a" stroke-width="2" fill="none"/><path d="M1745,548 L1780,550" stroke="#4a4a4a" stroke-width="2"/><path d="M1750.8,548.3l2.5,6M1762.5,549l2.5,6M1774.2,549.7l2.5,6" stroke="#4a4a4a" stroke-width="2" fill="none"/><path d="M1458,1212.5 L1653,1218.5" stroke="#4a4a4a" stroke-width="2"/><path d="M1467.8,1212.8l5,12M1487.2,1213.4l5,12M1506.8,1214l5,12M1526.2,1214.6l5,12M1545.8,1215.2l5,12M1565.2,1215.8l5,12M1584.8,1216.4l5,12M1604.2,1217l5,12M1623.8,1217.6l5,12M1643.2,1218.2l5,12" stroke="#4a4a4a" stroke-width="2" fill="none"/><path d="M1338.7,1751.7 L1410.6,1738" stroke="#4a4a4a" stroke-width="2"/><path d="M1345.9,1750.3l5,3.5M1360.3,1747.6l5,3.5M1374.7,1744.8l5,3.5M1389,1742.1l5,3.5M1403.4,1739.4l5,3.5" stroke="#4a4a4a" stroke-width="2" fill="none"/><path d="M1367.5,1814.7 L1457.6,1804.1" stroke="#4a4a4a" stroke-width="2"/><path d="M1373.9,1813.9l5,6M1386.8,1812.4l5,6M1399.7,1810.9l5,6M1412.5,1809.4l5,6M1425.4,1807.9l5,6M1438.3,1806.4l5,6M1451.2,1804.9l5,6" stroke="#4a4a4a" stroke-width="2" fill="none"/><path d="M1475.6,2633 L1509.8,2630" stroke="#4a4a4a" stroke-width="2"/><path d="M1481.3,2632.5l4,6M1492.7,2631.5l4,6M1504.1,2630.5l4,6" stroke="#4a4a4a" stroke-width="2" fill="none"/><path d="M374,2566.3 L465.1,2555.6" stroke="#4a4a4a" stroke-width="2"/><path d="M381.6,2565.4l5,9M396.8,2563.6l5,9M412,2561.8l5,9M427.1,2560.1l5,9M442.3,2558.3l5,9M457.5,2556.5l5,9" stroke="#4a4a4a" stroke-width="2" fill="none"/><path d="M2764.5,1697.5 L2842.8,1692" stroke="#4a4a4a" stroke-width="2"/><path d="M2769.4,1697.2l3,7M2779.2,1696.5l3,7M2789,1695.8l3,7M2798.8,1695.1l3,7M2808.5,1694.4l3,7M2818.3,1693.7l3,7M2828.1,1693l3,7M2837.9,1692.3l3,7" stroke="#4a4a4a" stroke-width="2" fill="none"/><path d="M2648.8,1903.8 L2697.3,1907.5" stroke="#4a4a4a" stroke-width="2"/><path d="M2654.9,1904.3l3,7M2667,1905.2l3,7M2679.1,1906.1l3,7M2691.2,1907l3,7" stroke="#4a4a4a" stroke-width="2" fill="none"/><path d="M2664.5,2136 L2807.4,2154.6" stroke="#4a4a4a" stroke-width="2"/><path d="M2669.6,2136.7l2,8M2679.8,2138l2,8M2690,2139.3l2,8M2700.2,2140.7l2,8M2710.4,2142l2,8M2720.6,2143.3l2,8M2730.8,2144.6l2,8M2741.1,2146l2,8M2751.3,2147.3l2,8M2761.5,2148.6l2,8M2771.7,2149.9l2,8M2781.9,2151.3l2,8M2792.1,2152.6l2,8M2802.3,2153.9l2,8" stroke="#4a4a4a" stroke-width="2" fill="none"/><path d="M2434.3,2118 L2506.3,2122.5" stroke="#4a4a4a" stroke-width="2"/><path d="M2440.3,2118.4l5,6M2452.3,2119.1l5,6M2464.3,2119.9l5,6M2476.3,2120.6l5,6M2488.3,2121.4l5,6M2500.3,2122.1l5,6" stroke="#4a4a4a" stroke-width="2" fill="none"/><path d="M1475.9,2739.4l3.7,-2.7M1485,2739.9l3.7,-2.7M1496.4,2740.7l3.7,-2.7M1508.2,2742.3l5,-3.5M1517.8,2746.9l5,-3.3M1525.2,2751.4l5,-3M1529,2758.3l4.5,-3.5M1532.7,2766l4.5,-3M1536.7,2774.3l4.5,-4M1538.8,2782.3l6,-2.8M1539.4,2792.4l6.5,-3M1540.7,2801.8l6,-0.8M1541.2,2810.8l5,-1.5" stroke="#4a4a4a" stroke-width="1.8" fill="none"/><path d="M1303,1362L1309.7,1385.5M1305,1369l-9,-3.5M1305,1369l4.5,-8.5M1309,1383.2l-9,-3.5M1309,1383.2l4.5,-8.5" stroke="#4a4a4a" stroke-width="1.9" fill="none"/><path d="M1313,1486.3L1323,1517M1316,1495.5l-9,-3.5M1316,1495.5l4.5,-8.5M1319,1504.7l-9,-3.5M1319,1504.7l4.5,-8.5M1322,1513.9l-9,-3.5M1322,1513.9l4.5,-8.5" stroke="#4a4a4a" stroke-width="1.9" fill="none"/><path d="M1299,1600L1305,1620M1300.8,1606l-9,-3.5M1300.8,1606l4.5,-8.5M1304.4,1618l-9,-3.5M1304.4,1618l4.5,-8.5" stroke="#4a4a4a" stroke-width="1.9" fill="none"/><path d="M520.5,1873L527,1899M522.5,1880.8l-9,-3.5M522.5,1880.8l4.5,-8.5M526.4,1896.4l-9,-3.5M526.4,1896.4l4.5,-8.5" stroke="#4a4a4a" stroke-width="1.9" fill="none"/><path d="M484,1911.7L492,1935.7M486.4,1918.9l-9,-3.5M486.4,1918.9l4.5,-8.5M491.2,1933.3l-9,-3.5M491.2,1933.3l4.5,-8.5" stroke="#4a4a4a" stroke-width="1.9" fill="none"/><path d="M475,2094L482,2118M477.1,2101.2l-9,-3.5M477.1,2101.2l4.5,-8.5M481.3,2115.6l-9,-3.5M481.3,2115.6l4.5,-8.5" stroke="#4a4a4a" stroke-width="1.9" fill="none"/><path d="M2215,1614L2230,1643M2219.5,1622.7l-9,-3.5M2219.5,1622.7l4.5,-8.5M2224,1631.4l-9,-3.5M2224,1631.4l4.5,-8.5M2228.5,1640.1l-9,-3.5M2228.5,1640.1l4.5,-8.5" stroke="#4a4a4a" stroke-width="1.9" fill="none"/><path d="M2493,2068L2511,2109M2498.4,2080.3l-9,-3.5M2498.4,2080.3l4.5,-8.5M2502,2088.5l-9,-3.5M2502,2088.5l4.5,-8.5M2505.6,2096.7l-9,-3.5M2505.6,2096.7l4.5,-8.5M2509.2,2104.9l-9,-3.5M2509.2,2104.9l4.5,-8.5" stroke="#4a4a4a" stroke-width="1.9" fill="none"/><path d="M1771.8,368.2 L1774.4,391.7 L1778.6,437.3 L1809.3,504.7 L1765.8,533.7 L1765.8,551.6 L1768.8,607 L1811.5,688.9 L1815.7,743.5 L1820,779.7" stroke="#ff1f1f" stroke-width="2.3" fill="none" stroke-dasharray="6.5 2.8"/><path d="M1817,803 L1811,860 L1805,922.5 L1809,973.7 L1813.6,1020.6 L1826.8,1053.2 L1847.5,1099.6 L1876.3,1118.8 L1961,1155.5 L2036.2,1214.7" stroke="#ff1f1f" stroke-width="2.3" fill="none" stroke-dasharray="6.5 2.8"/><path d="M2044.2,1233.9 L2060.2,1273.9 L2108.2,1305.8 L2201,1365 L2203.5,1376.2 L2202.5,1421 L2183.3,1465.7 L2185,1564.9 L2187.2,1568.7 L2219.2,1648.6 L2209.8,1691.2" stroke="#ff1f1f" stroke-width="2.3" fill="none" stroke-dasharray="6.5 2.8"/><path d="M2208,1710 L2205.8,1760.5 L2232.5,1816.5 L2317.8,1861.8 L2331.1,1887 L2400.7,1928.8 L2412,1947.5 L2449.2,1997.8 L2454.8,2017.3 L2460.4,2052.8 L2466,2087" stroke="#ff1f1f" stroke-width="2.3" fill="none" stroke-dasharray="6.5 2.8"/><path d="M2471.6,2112.5 L2481,2174 L2522,2267.3 L2529.5,2310.2 L2579.8,2362.4 L2583.6,2418.4 L2620.9,2485.6 L2727.2,2502.3" stroke="#ff1f1f" stroke-width="2.3" fill="none" stroke-dasharray="6.5 2.8"/><path d="M2475.4,2036 L2525.7,2052.8 L2559.3,2092 L2671.2,2108.7" stroke="#ff1f1f" stroke-width="2.3" fill="none" stroke-dasharray="6.5 2.8"/><path d="M1254.6,1205 L1257.5,1244.2 L1270.8,1274 L1284.8,1321 L1300.6,1336 L1331.7,1431.8 L1322,1478.7 L1314.7,1557.6 L1322,1600" stroke="#ff1f1f" stroke-width="2.3" fill="none" stroke-dasharray="6.5 2.8"/><path d="M1326.2,1620 L1325.9,1662.8 L1367.5,1723.6 L1375.5,1747.5 L1394.6,1803.5 L1437.8,1845 L1479.4,1904.2 L1495.4,1950.6 L1565.7,1987.4" stroke="#ff1f1f" stroke-width="2.3" fill="none" stroke-dasharray="6.5 2.8"/><path d="M1570.5,2006.6 L1567.3,2065.7 L1559.3,2206.5 L1565.7,2254.4 L1574.4,2313.5 L1538.6,2369.5 L1524.2,2414.3" stroke="#ff1f1f" stroke-width="2.3" fill="none" stroke-dasharray="6.5 2.8"/><path d="M1522.6,2433.5 L1522.6,2455.8 L1511.4,2494.2 L1497.9,2580.6 L1497.9,2739.3 L1516,2751.4 L1528.1,2766.5 L1534.2,2796.7 L1535,2819.4" stroke="#ff1f1f" stroke-width="2.3" fill="none" stroke-dasharray="6.5 2.8"/><path d="M537.8,1706.4 L537.8,1812.5 L488.2,1851.6 L480.3,1898.9 L472.3,1937.3 L469,2000 L466.8,2058.7 L466.8,2100.3 L459.5,2138.7 L446.7,2212.2" stroke="#ff1f1f" stroke-width="2.3" fill="none" stroke-dasharray="6.5 2.8"/><path d="M447,2228 L447.6,2266.6 L437,2368.9 L441.2,2429.7 L445.2,2477.5 L435.1,2551 L387.7,2586.2 L386.8,2722.3" stroke="#ff1f1f" stroke-width="2.3" fill="none" stroke-dasharray="6.5 2.8"/><path d="M2641.8,962.4 L2641.8,1021.4 L2662,1088.5 L2717,1142.7 L2717,1228.5 L2731,1290" stroke="#ff1f1f" stroke-width="2.3" fill="none" stroke-dasharray="6.5 2.8"/><path d="M2731,1299.4 L2740.3,1321.7 L2764.5,1334.8 L2796.2,1380 L2826,1402.8 L2889.5,1494.2 L2889.5,1531.5 L2870.8,1565 L2792.5,1662" stroke="#ff1f1f" stroke-width="2.3" fill="none" stroke-dasharray="6.5 2.8"/><path d="M2781.3,1680.7 L2747.7,1703 L2745.8,1768.4 L2716,1824.4 L2673,1867.3 L2673,1964.3 L2684.3,2028.5 L2704.8,2084.5 L2691.8,2099.4" stroke="#ff1f1f" stroke-width="2.3" fill="none" stroke-dasharray="6.5 2.8"/><path d="M2691,2118 L2691,2189 L2699.2,2263.6 L2697.3,2317.7 L2684.3,2330.7 L2689.9,2396 L2717.9,2412.8 L2740.3,2509.8 L2775.7,2560.2 L2820.5,2588.2 L2824,2595.3" stroke="#ff1f1f" stroke-width="2.3" fill="none" stroke-dasharray="6.5 2.8"/><path d="M2831,2610.5 L2844.6,2637.7 L2856.7,2683 L2859.1,2731.4 L2874.9,2802.4" stroke="#ff1f1f" stroke-width="2.3" fill="none" stroke-dasharray="6.5 2.8"/><path d="M1605,1112 L1591.8,1148.3" stroke="#555" stroke-width="2.2" fill="none"/><path d="M1591.8,1148.3 L1590,1130.4" stroke="#555" stroke-width="2.2"/><path d="M1591.8,1148.3 L1604.7,1135.7" stroke="#555" stroke-width="2.2"/><path d="M1360,1562 L1353.9,1571.7" stroke="#555" stroke-width="2.2" fill="none"/><path d="M1353.9,1571.7 L1355.9,1553.8" stroke="#555" stroke-width="2.2"/><path d="M1353.9,1571.7 L1369.2,1562.1" stroke="#555" stroke-width="2.2"/><path d="M2300,2070 L2254.5,2074" stroke="#555" stroke-width="2.2" fill="none"/><path d="M2254.5,2074 L2270,2064.8" stroke="#555" stroke-width="2.2"/><path d="M2254.5,2074 L2271.3,2080.4" stroke="#555" stroke-width="2.2"/><g transform="translate(1624,208) scale(1)"><rect x="-3.2" y="16" width="6.4" height="35.1" fill="#6e4500"/><ellipse cx="-12.8" cy="14.6" rx="12.2" ry="8.6" fill="#0a740a"/><ellipse cx="12.8" cy="14.6" rx="12.2" ry="8.6" fill="#0a740a"/><ellipse cx="0" cy="10" rx="10.3" ry="10" fill="#0a740a"/></g><g transform="translate(1683,208) scale(1)"><rect x="-3.2" y="16" width="6.4" height="35.1" fill="#6e4500"/><ellipse cx="-12.8" cy="14.6" rx="12.2" ry="8.6" fill="#0a740a"/><ellipse cx="12.8" cy="14.6" rx="12.2" ry="8.6" fill="#0a740a"/><ellipse cx="0" cy="10" rx="10.3" ry="10" fill="#0a740a"/></g><g transform="translate(1743,212.5) scale(1)"><rect x="-3.2" y="16" width="6.4" height="35" fill="#6e4500"/><ellipse cx="-12.8" cy="14.6" rx="12.2" ry="8.6" fill="#0a740a"/><ellipse cx="12.8" cy="14.6" rx="12.2" ry="8.6" fill="#0a740a"/><ellipse cx="0" cy="10" rx="10.3" ry="10" fill="#0a740a"/></g><g transform="translate(1806,219.5) scale(1)"><rect x="-3.2" y="16" width="6.4" height="35" fill="#6e4500"/><ellipse cx="-12.8" cy="14.6" rx="12.2" ry="8.6" fill="#0a740a"/><ellipse cx="12.8" cy="14.6" rx="12.2" ry="8.6" fill="#0a740a"/><ellipse cx="0" cy="10" rx="10.3" ry="10" fill="#0a740a"/></g><g transform="translate(1866,232) scale(1)"><rect x="-3.2" y="16" width="6.4" height="35.1" fill="#6e4500"/><ellipse cx="-12.8" cy="14.6" rx="12.2" ry="8.6" fill="#0a740a"/><ellipse cx="12.8" cy="14.6" rx="12.2" ry="8.6" fill="#0a740a"/><ellipse cx="0" cy="10" rx="10.3" ry="10" fill="#0a740a"/></g><g transform="translate(2503,816) scale(1)"><rect x="-3.2" y="16" width="6.4" height="34.9" fill="#6e4500"/><ellipse cx="-12.8" cy="14.6" rx="12.2" ry="8.6" fill="#0a740a"/><ellipse cx="12.8" cy="14.6" rx="12.2" ry="8.6" fill="#0a740a"/><ellipse cx="0" cy="10" rx="10.3" ry="10" fill="#0a740a"/></g><g transform="translate(2562,816) scale(1)"><rect x="-3.2" y="16" width="6.4" height="34.9" fill="#6e4500"/><ellipse cx="-12.8" cy="14.6" rx="12.2" ry="8.6" fill="#0a740a"/><ellipse cx="12.8" cy="14.6" rx="12.2" ry="8.6" fill="#0a740a"/><ellipse cx="0" cy="10" rx="10.3" ry="10" fill="#0a740a"/></g><g transform="translate(2621.6,820.7) scale(1)"><rect x="-3.2" y="16" width="6.4" height="34.3" fill="#6e4500"/><ellipse cx="-12.8" cy="14.6" rx="12.2" ry="8.6" fill="#0a740a"/><ellipse cx="12.8" cy="14.6" rx="12.2" ry="8.6" fill="#0a740a"/><ellipse cx="0" cy="10" rx="10.3" ry="10" fill="#0a740a"/></g><g transform="translate(2685,827.4) scale(1)"><rect x="-3.2" y="16" width="6.4" height="34.7" fill="#6e4500"/><ellipse cx="-12.8" cy="14.6" rx="12.2" ry="8.6" fill="#0a740a"/><ellipse cx="12.8" cy="14.6" rx="12.2" ry="8.6" fill="#0a740a"/><ellipse cx="0" cy="10" rx="10.3" ry="10" fill="#0a740a"/></g><g transform="translate(2744.7,840.4) scale(1)"><rect x="-3.2" y="16" width="6.4" height="34.8" fill="#6e4500"/><ellipse cx="-12.8" cy="14.6" rx="12.2" ry="8.6" fill="#0a740a"/><ellipse cx="12.8" cy="14.6" rx="12.2" ry="8.6" fill="#0a740a"/><ellipse cx="0" cy="10" rx="10.3" ry="10" fill="#0a740a"/></g><g transform="translate(2767,2825) scale(1)"><rect x="-3.2" y="16" width="6.4" height="34" fill="#6e4500"/><ellipse cx="-12.8" cy="14.6" rx="12.2" ry="8.6" fill="#0a740a"/><ellipse cx="12.8" cy="14.6" rx="12.2" ry="8.6" fill="#0a740a"/><ellipse cx="0" cy="10" rx="10.3" ry="10" fill="#0a740a"/></g><g transform="translate(2809,2790) scale(1)"><rect x="-3.2" y="16" width="6.4" height="35.1" fill="#6e4500"/><ellipse cx="-12.8" cy="14.6" rx="12.2" ry="8.6" fill="#0a740a"/><ellipse cx="12.8" cy="14.6" rx="12.2" ry="8.6" fill="#0a740a"/><ellipse cx="0" cy="10" rx="10.3" ry="10" fill="#0a740a"/></g><g transform="translate(2805,2853) scale(1)"><rect x="-3.2" y="16" width="6.4" height="35.3" fill="#6e4500"/><ellipse cx="-12.8" cy="14.6" rx="12.2" ry="8.6" fill="#0a740a"/><ellipse cx="12.8" cy="14.6" rx="12.2" ry="8.6" fill="#0a740a"/><ellipse cx="0" cy="10" rx="10.3" ry="10" fill="#0a740a"/></g><g transform="translate(2853.5,2816) scale(1)"><rect x="-3.2" y="16" width="6.4" height="33.9" fill="#6e4500"/><ellipse cx="-12.8" cy="14.6" rx="12.2" ry="8.6" fill="#0a740a"/><ellipse cx="12.8" cy="14.6" rx="12.2" ry="8.6" fill="#0a740a"/><ellipse cx="0" cy="10" rx="10.3" ry="10" fill="#0a740a"/></g><g transform="translate(2901,2753) scale(1)"><rect x="-3.2" y="16" width="6.4" height="34" fill="#6e4500"/><ellipse cx="-12.8" cy="14.6" rx="12.2" ry="8.6" fill="#0a740a"/><ellipse cx="12.8" cy="14.6" rx="12.2" ry="8.6" fill="#0a740a"/><ellipse cx="0" cy="10" rx="10.3" ry="10" fill="#0a740a"/></g><g transform="translate(2949,2733) scale(1)"><rect x="-3.2" y="16" width="6.4" height="35.3" fill="#6e4500"/><ellipse cx="-12.8" cy="14.6" rx="12.2" ry="8.6" fill="#0a740a"/><ellipse cx="12.8" cy="14.6" rx="12.2" ry="8.6" fill="#0a740a"/><ellipse cx="0" cy="10" rx="10.3" ry="10" fill="#0a740a"/></g><g transform="translate(2942,2788) scale(1)"><rect x="-3.2" y="16" width="6.4" height="34.7" fill="#6e4500"/><ellipse cx="-12.8" cy="14.6" rx="12.2" ry="8.6" fill="#0a740a"/><ellipse cx="12.8" cy="14.6" rx="12.2" ry="8.6" fill="#0a740a"/><ellipse cx="0" cy="10" rx="10.3" ry="10" fill="#0a740a"/></g><g transform="translate(2995,2700) scale(1)"><rect x="-3.2" y="16" width="6.4" height="35" fill="#6e4500"/><ellipse cx="-12.8" cy="14.6" rx="12.2" ry="8.6" fill="#0a740a"/><ellipse cx="12.8" cy="14.6" rx="12.2" ry="8.6" fill="#0a740a"/><ellipse cx="0" cy="10" rx="10.3" ry="10" fill="#0a740a"/></g><g transform="translate(2999,2761) scale(1)"><rect x="-3.2" y="16" width="6.4" height="35.1" fill="#6e4500"/><ellipse cx="-12.8" cy="14.6" rx="12.2" ry="8.6" fill="#0a740a"/><ellipse cx="12.8" cy="14.6" rx="12.2" ry="8.6" fill="#0a740a"/><ellipse cx="0" cy="10" rx="10.3" ry="10" fill="#0a740a"/></g><g transform="translate(1561,2748) scale(1)"><rect x="-3.9" y="16" width="7.8" height="57" fill="#4d3a05"/><ellipse cx="-14.6" cy="14.4" rx="12.4" ry="8.3" fill="#174a00"/><ellipse cx="15.7" cy="14.4" rx="11.2" ry="7.4" fill="#174a00"/><ellipse cx="0.5" cy="11" rx="11.5" ry="11" fill="#174a00"/></g><g transform="translate(343,2685.6) scale(1)"><rect x="-3.9" y="16" width="7.8" height="57.4" fill="#4d3a05"/><ellipse cx="-14.6" cy="14.4" rx="12.4" ry="8.3" fill="#174a00"/><ellipse cx="15.7" cy="14.4" rx="11.2" ry="7.4" fill="#174a00"/><ellipse cx="0.5" cy="11" rx="11.5" ry="11" fill="#174a00"/></g><g transform="translate(424.5,2671) scale(1)"><rect x="-3.9" y="16" width="7.8" height="56.8" fill="#4d3a05"/><ellipse cx="-14.6" cy="14.4" rx="12.4" ry="8.3" fill="#174a00"/><ellipse cx="15.7" cy="14.4" rx="11.2" ry="7.4" fill="#174a00"/><ellipse cx="0.5" cy="11" rx="11.5" ry="11" fill="#174a00"/></g><use href="#bx" x="1766" y="360.5"/><use href="#bx" x="1777" y="360.5"/><use href="#bx" x="1815.5" y="793.5"/><use href="#bx" x="1826" y="793.5"/><use href="#bx" x="2039.5" y="1224"/><use href="#bx" x="2050" y="1224"/><use href="#bx" x="2464" y="2095.5"/><use href="#bx" x="2475" y="2095.5"/><use href="#bx" x="1250" y="1197"/><use href="#bx" x="1259" y="1197"/><use href="#bx" x="1574.5" y="1194"/><use href="#bx" x="1585" y="1194"/><use href="#bx" x="1319" y="1609"/><use href="#bx" x="1329" y="1609"/><use href="#bx" x="1566" y="1995"/><use href="#bx" x="1575" y="1995"/><use href="#bx" x="1519.5" y="2422"/><use href="#bx" x="1528.5" y="2422"/><use href="#bx" x="534.5" y="1699"/><use href="#bx" x="543" y="1699"/><use href="#bx" x="443" y="2221"/><use href="#bx" x="451.5" y="2221"/><use href="#bx" x="2206.5" y="1698"/><use href="#bx" x="2216" y="1698"/><use href="#bx" x="2636" y="955"/><use href="#bx" x="2646" y="955"/><use href="#bx" x="2725" y="1287"/><use href="#bx" x="2735" y="1287"/><use href="#bx" x="2783" y="1668.5"/><use href="#bx" x="2795" y="1668.5"/><use href="#bx" x="2684.5" y="2106.5"/><use href="#bx" x="2696" y="2106.5"/><use href="#bx" x="2822" y="2601.5"/><use href="#bx" x="2833" y="2601.5"/><use href="#bx" x="1275.9" y="1268"/><use href="#bx" x="1328.8" y="1498"/><use href="#bx" x="1490.9" y="2616.4"/><use href="#bx" x="1490.9" y="2729.3"/><use href="#bx" x="505.8" y="1826.3"/><use href="#bx" x="468.7" y="1911"/><use href="#bx" x="474.8" y="2059.4"/><use href="#bx" x="452.4" y="2479.3"/><use href="#bx" x="427.8" y="2544.2"/><use href="#bx" x="427.5" y="2544.2"/><use href="#bx" x="379.7" y="2603"/><use href="#bx" x="378.8" y="2656.6"/><use href="#bx" x="2650.7" y="1024"/><use href="#bx" x="2672.3" y="1086"/><use href="#bx" x="2724.2" y="1140.8"/><use href="#bx" x="2709.3" y="1233.3"/><use href="#bx" x="2845.5" y="1446.4"/><use href="#bx" x="2859" y="1568"/><use href="#bx" x="2818.6" y="1614.3"/><use href="#bx" x="2737.3" y="1765.8"/><use href="#bx" x="2706.7" y="1822.5"/><use href="#bx" x="2664" y="1877.7"/><use href="#bx" x="2682.4" y="1968.8"/><use href="#bx" x="2698" y="2051"/><use href="#bx" x="2699.2" y="2195.6"/><use href="#bx" x="2706" y="2267.3"/><use href="#bx" x="2691.8" y="2342.6"/><use href="#bx" x="2731" y="2427"/><use href="#bx" x="2750.3" y="2503.5"/><use href="#bx" x="2786.9" y="2555.3"/><use href="#bx" x="2856.7" y="2645.2"/><use href="#bx" x="2864.3" y="2686"/><use href="#bx" x="2867.3" y="2739.5"/><use href="#bb" x="1800.8" y="463.3"/><use href="#bb" x="1757.3" y="535.8"/><use href="#bb" x="1770" y="631.7"/><use href="#bb" x="1803" y="700.8"/><use href="#bb" x="1814" y="917"/><use href="#bb" x="1822" y="1012"/><use href="#bb" x="1865.1" y="1099.6"/><use href="#bb" x="1976.4" y="1153.3"/><use href="#bb" x="2199.3" y="1347.4"/><use href="#bb" x="2191.3" y="1472.8"/><use href="#bb" x="2199.3" y="1575.1"/><use href="#bb" x="2229" y="1654.7"/><use href="#bb" x="2217.3" y="1757.3"/><use href="#bb" x="2325.2" y="1852.5"/><use href="#bb" x="2414.2" y="1930.6"/><use href="#bb" x="2464.2" y="2023"/><use href="#bb" x="2502.2" y="2194.5"/><use href="#bb" x="2534.3" y="2276.6"/><use href="#bb" x="2582.4" y="2355"/><use href="#bb" x="2591" y="2414.7"/><use href="#bb" x="2630.2" y="2473.6"/><use href="#bb" x="2562.3" y="2078.5"/><use href="#bb" x="1312.5" y="1350.8"/><use href="#bb" x="1338.6" y="1431"/><use href="#bb" x="1322.8" y="1558.5"/><use href="#bb" x="1356.9" y="1695.3"/><use href="#bb" x="1445.8" y="1844"/><use href="#bb" x="1501.8" y="1945.2"/><use href="#bb" x="1575.3" y="2058.4"/><use href="#bb" x="1573.7" y="2126.5"/><use href="#bb" x="1569.6" y="2211.9"/><use href="#bb" x="1580.8" y="2313.5"/><use href="#bb" x="1536.3" y="2365.3"/><use href="#bb" x="1515.5" y="2458.4"/><use href="#bb" x="1504.3" y="2488.5"/><use href="#bb" x="1499.9" y="2519.2"/><use href="#bb" x="1493.8" y="2553.4"/><use href="#bb" x="1490.9" y="2587"/><use href="#bb" x="1490.9" y="2667"/><use href="#bb" x="1490.9" y="2698.2"/><use href="#bb" x="465.9" y="2150.5"/><use href="#bb" x="445.7" y="2367.3"/><use href="#bb" x="449.6" y="2431.3"/><circle cx="1815" cy="362" r="15.2" fill="url(#gb)"/><text x="1815.5" y="368.3" font-family="Liberation Sans" font-size="17.5" font-weight="bold" fill="#000" text-anchor="middle" textLength="19" lengthAdjust="spacingAndGlyphs">P3</text><circle cx="2090.6" cy="1226.8" r="15.2" fill="url(#gb)"/><text x="2091.1" y="1233.1" font-family="Liberation Sans" font-size="17.5" font-weight="bold" fill="#000" text-anchor="middle" textLength="19" lengthAdjust="spacingAndGlyphs">P2</text><circle cx="2432.4" cy="2098.6" r="15.2" fill="url(#gb)"/><text x="2432.9" y="2104.9" font-family="Liberation Sans" font-size="17.5" font-weight="bold" fill="#000" text-anchor="middle" textLength="19" lengthAdjust="spacingAndGlyphs">P1</text><circle cx="1282.5" cy="1197.6" r="15.2" fill="url(#gb)"/><text x="1283" y="1203.9" font-family="Liberation Sans" font-size="17.5" font-weight="bold" fill="#000" text-anchor="middle" textLength="19" lengthAdjust="spacingAndGlyphs">P2</text><circle cx="1596.1" cy="1996" r="15.2" fill="url(#gb)"/><text x="1596.6" y="2002.3" font-family="Liberation Sans" font-size="17.5" font-weight="bold" fill="#000" text-anchor="middle" textLength="19" lengthAdjust="spacingAndGlyphs">P1</text><circle cx="565" cy="1699.6" r="15.2" fill="url(#gb)"/><text x="565.5" y="1705.9" font-family="Liberation Sans" font-size="17.5" font-weight="bold" fill="#000" text-anchor="middle" textLength="19" lengthAdjust="spacingAndGlyphs">P1</text><circle cx="2674.2" cy="955" r="15.2" fill="url(#gb)"/><text x="2674.7" y="961.3" font-family="Liberation Sans" font-size="17.5" font-weight="bold" fill="#000" text-anchor="middle" textLength="19" lengthAdjust="spacingAndGlyphs">P3</text><circle cx="2824.2" cy="1670.3" r="15.2" fill="url(#gb)"/><text x="2824.7" y="1676.6" font-family="Liberation Sans" font-size="17.5" font-weight="bold" fill="#000" text-anchor="middle" textLength="19" lengthAdjust="spacingAndGlyphs">P2</text><circle cx="2734.7" cy="2108.7" r="15.2" fill="url(#gb)"/><text x="2735.2" y="2115" font-family="Liberation Sans" font-size="17.5" font-weight="bold" fill="#000" text-anchor="middle" textLength="19" lengthAdjust="spacingAndGlyphs">P1</text><circle cx="1855.4" cy="793.3" r="10.8" fill="url(#gy)"/><circle cx="1610.6" cy="1193" r="10.8" fill="url(#gy)"/><circle cx="1553.9" cy="2424.5" r="10.8" fill="url(#gy)"/><circle cx="475.8" cy="2220.2" r="10.8" fill="url(#gy)"/><circle cx="2700.3" cy="1290" r="10.8" fill="url(#gy)"/><circle cx="2177.9" cy="1700.6" r="10.8" fill="url(#gy)"/><circle cx="2858.4" cy="2601.3" r="10.8" fill="url(#gy)"/><circle cx="1353.5" cy="1611" r="10.8" fill="url(#gy)"/><use href="#bx" x="241.5" y="458"/><use href="#bb" x="241.5" y="494"/><circle cx="240.5" cy="529.5" r="11.4" fill="url(#gb)"/><circle cx="240.5" cy="565.5" r="11.4" fill="url(#gy)"/><path d="M226,597.8 H254 M231,598.2 L237.9,612 M244.2,598.2 L251.1,612" stroke="#555" stroke-width="1.6" fill="none"/><path d="M226,644 H254 M228.8,630.3 L235.6,644 M242,630.3 L248.8,644" stroke="#555" stroke-width="1.6" fill="none"/><path d="M225.9,679.6 L236.8,665.9 L242.5,673.3 M237.6,675 L242.2,671 M237.4,675 L246.5,665.9 L252.8,680.7" stroke="#555" stroke-width="1.6" fill="none"/><path d="M228.2,721.5 L251.7,699.1 M232.8,704.3 V717 H244.8 M243.1,697.4 L243.7,707.7 L254,706.8" stroke="#555" stroke-width="1.6" fill="none"/><path d="M233.4,760 L252.3,733 M235,744.4 L235.6,754.8 M243.1,732.4 L244.8,743.9" stroke="#555" stroke-width="1.6" fill="none"/><use href="#v" x="240" y="777"/></svg></body></html>
